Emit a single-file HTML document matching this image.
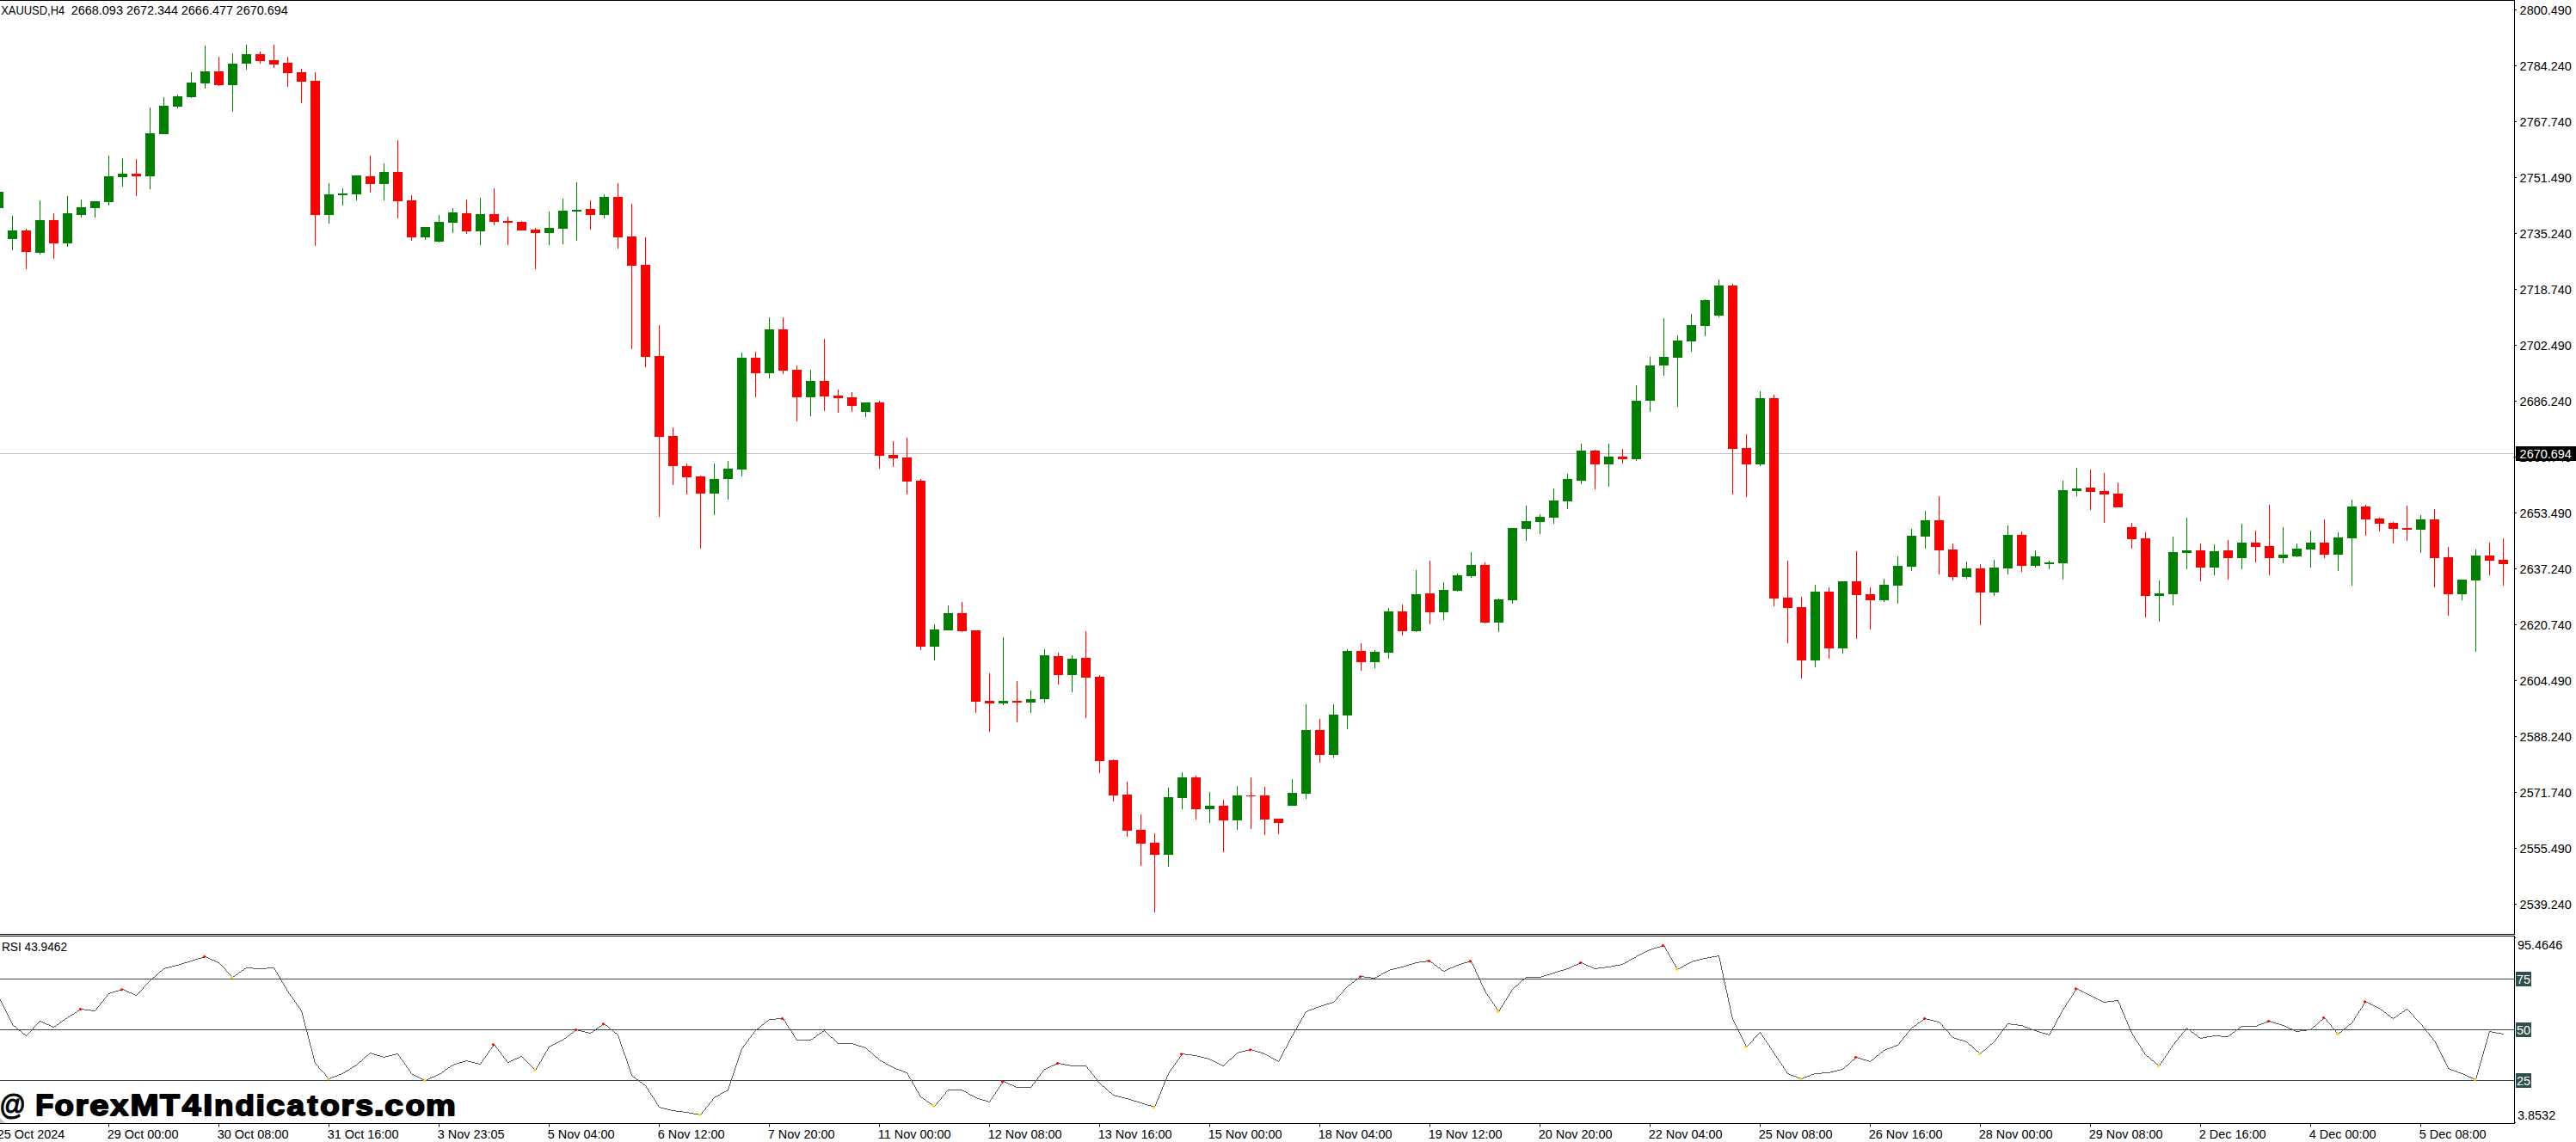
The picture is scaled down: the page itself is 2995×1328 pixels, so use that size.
<!DOCTYPE html><html><head><meta charset="utf-8"><title>XAUUSD,H4</title>
<style>html,body{margin:0;padding:0;background:#fff;overflow:hidden}body{width:2995px;height:1328px}svg{position:absolute;left:0;top:0;display:block}text{font-family:"Liberation Sans",sans-serif;font-size:14px;fill:#000}.w{fill:#fff}.wg{font-weight:bold;font-size:35px}</style></head><body>
<svg width="2995" height="1328" viewBox="0 0 2995 1328">
<rect x="0" y="0" width="2995" height="1328" fill="#fff"/>
<defs><clipPath id="cm"><rect x="0" y="1" width="2923" height="1085"/></clipPath><clipPath id="cr"><rect x="0" y="1089" width="2923" height="217"/></clipPath><clipPath id="cd"><rect x="0" y="1307" width="2995" height="21"/></clipPath></defs>
<g shape-rendering="crispEdges">
<rect x="0" y="527" width="2923" height="1" fill="#c0c0c0"/>
<g clip-path="url(#cm)">
<rect x="-7" y="223" width="11" height="19" fill="#008000"/>
<rect x="14" y="251" width="1" height="40" fill="#008000"/>
<rect x="9" y="268" width="11" height="10" fill="#008000"/>
<rect x="30" y="266" width="1" height="47" fill="#ff0000"/>
<rect x="25" y="268" width="11" height="25" fill="#ff0000"/>
<rect x="46" y="233" width="1" height="63" fill="#008000"/>
<rect x="41" y="256" width="11" height="38" fill="#008000"/>
<rect x="62" y="248" width="1" height="53" fill="#ff0000"/>
<rect x="57" y="256" width="11" height="27" fill="#ff0000"/>
<rect x="78" y="228" width="1" height="59" fill="#008000"/>
<rect x="73" y="248" width="11" height="35" fill="#008000"/>
<rect x="94" y="232" width="1" height="21" fill="#008000"/>
<rect x="89" y="241" width="11" height="9" fill="#008000"/>
<rect x="110" y="234" width="1" height="19" fill="#008000"/>
<rect x="105" y="234" width="11" height="8" fill="#008000"/>
<rect x="126" y="181" width="1" height="58" fill="#008000"/>
<rect x="121" y="205" width="11" height="30" fill="#008000"/>
<rect x="142" y="184" width="1" height="33" fill="#008000"/>
<rect x="137" y="202" width="11" height="4" fill="#008000"/>
<rect x="158" y="185" width="1" height="43" fill="#ff0000"/>
<rect x="153" y="202" width="11" height="3" fill="#ff0000"/>
<rect x="174" y="125" width="1" height="95" fill="#008000"/>
<rect x="169" y="155" width="11" height="50" fill="#008000"/>
<rect x="190" y="113" width="1" height="43" fill="#008000"/>
<rect x="185" y="123" width="11" height="33" fill="#008000"/>
<rect x="206" y="110" width="1" height="16" fill="#008000"/>
<rect x="201" y="112" width="11" height="12" fill="#008000"/>
<rect x="222" y="84" width="1" height="30" fill="#008000"/>
<rect x="217" y="96" width="11" height="17" fill="#008000"/>
<rect x="238" y="53" width="1" height="50" fill="#008000"/>
<rect x="233" y="83" width="11" height="14" fill="#008000"/>
<rect x="254" y="66" width="1" height="34" fill="#ff0000"/>
<rect x="249" y="83" width="11" height="16" fill="#ff0000"/>
<rect x="270" y="62" width="1" height="68" fill="#008000"/>
<rect x="265" y="74" width="11" height="25" fill="#008000"/>
<rect x="286" y="52" width="1" height="29" fill="#008000"/>
<rect x="281" y="63" width="11" height="11" fill="#008000"/>
<rect x="302" y="60" width="1" height="14" fill="#ff0000"/>
<rect x="297" y="63" width="11" height="8" fill="#ff0000"/>
<rect x="318" y="52" width="1" height="27" fill="#ff0000"/>
<rect x="313" y="70" width="11" height="5" fill="#ff0000"/>
<rect x="334" y="66" width="1" height="35" fill="#ff0000"/>
<rect x="329" y="73" width="11" height="12" fill="#ff0000"/>
<rect x="350" y="80" width="1" height="40" fill="#ff0000"/>
<rect x="345" y="84" width="11" height="11" fill="#ff0000"/>
<rect x="366" y="84" width="1" height="202" fill="#ff0000"/>
<rect x="361" y="94" width="11" height="156" fill="#ff0000"/>
<rect x="382" y="213" width="1" height="47" fill="#008000"/>
<rect x="377" y="226" width="11" height="24" fill="#008000"/>
<rect x="398" y="219" width="1" height="20" fill="#008000"/>
<rect x="393" y="225" width="11" height="2" fill="#008000"/>
<rect x="414" y="204" width="1" height="29" fill="#008000"/>
<rect x="409" y="204" width="11" height="22" fill="#008000"/>
<rect x="430" y="181" width="1" height="43" fill="#ff0000"/>
<rect x="425" y="205" width="11" height="9" fill="#ff0000"/>
<rect x="446" y="190" width="1" height="43" fill="#008000"/>
<rect x="441" y="200" width="11" height="14" fill="#008000"/>
<rect x="462" y="163" width="1" height="91" fill="#ff0000"/>
<rect x="457" y="200" width="11" height="34" fill="#ff0000"/>
<rect x="478" y="227" width="1" height="53" fill="#ff0000"/>
<rect x="473" y="233" width="11" height="43" fill="#ff0000"/>
<rect x="494" y="264" width="1" height="15" fill="#008000"/>
<rect x="489" y="264" width="11" height="12" fill="#008000"/>
<rect x="510" y="250" width="1" height="32" fill="#008000"/>
<rect x="505" y="258" width="11" height="23" fill="#008000"/>
<rect x="526" y="242" width="1" height="29" fill="#008000"/>
<rect x="521" y="247" width="11" height="12" fill="#008000"/>
<rect x="542" y="232" width="1" height="40" fill="#ff0000"/>
<rect x="537" y="248" width="11" height="21" fill="#ff0000"/>
<rect x="558" y="230" width="1" height="55" fill="#008000"/>
<rect x="553" y="249" width="11" height="20" fill="#008000"/>
<rect x="574" y="219" width="1" height="43" fill="#ff0000"/>
<rect x="569" y="249" width="11" height="9" fill="#ff0000"/>
<rect x="590" y="252" width="1" height="33" fill="#ff0000"/>
<rect x="585" y="257" width="11" height="2" fill="#ff0000"/>
<rect x="606" y="257" width="1" height="11" fill="#ff0000"/>
<rect x="601" y="258" width="11" height="10" fill="#ff0000"/>
<rect x="622" y="265" width="1" height="48" fill="#ff0000"/>
<rect x="617" y="267" width="11" height="4" fill="#ff0000"/>
<rect x="638" y="246" width="1" height="39" fill="#008000"/>
<rect x="633" y="265" width="11" height="6" fill="#008000"/>
<rect x="654" y="231" width="1" height="53" fill="#008000"/>
<rect x="649" y="245" width="11" height="21" fill="#008000"/>
<rect x="670" y="212" width="1" height="68" fill="#008000"/>
<rect x="665" y="244" width="11" height="2" fill="#008000"/>
<rect x="686" y="233" width="1" height="34" fill="#ff0000"/>
<rect x="681" y="243" width="11" height="7" fill="#ff0000"/>
<rect x="702" y="226" width="1" height="28" fill="#008000"/>
<rect x="697" y="229" width="11" height="21" fill="#008000"/>
<rect x="718" y="213" width="1" height="76" fill="#ff0000"/>
<rect x="713" y="229" width="11" height="47" fill="#ff0000"/>
<rect x="734" y="237" width="1" height="169" fill="#ff0000"/>
<rect x="729" y="275" width="11" height="34" fill="#ff0000"/>
<rect x="750" y="276" width="1" height="151" fill="#ff0000"/>
<rect x="745" y="308" width="11" height="107" fill="#ff0000"/>
<rect x="766" y="378" width="1" height="223" fill="#ff0000"/>
<rect x="761" y="414" width="11" height="94" fill="#ff0000"/>
<rect x="782" y="497" width="1" height="67" fill="#ff0000"/>
<rect x="777" y="507" width="11" height="35" fill="#ff0000"/>
<rect x="798" y="539" width="1" height="36" fill="#ff0000"/>
<rect x="793" y="542" width="11" height="13" fill="#ff0000"/>
<rect x="814" y="553" width="1" height="85" fill="#ff0000"/>
<rect x="809" y="554" width="11" height="20" fill="#ff0000"/>
<rect x="830" y="539" width="1" height="60" fill="#008000"/>
<rect x="825" y="557" width="11" height="17" fill="#008000"/>
<rect x="846" y="536" width="1" height="45" fill="#008000"/>
<rect x="841" y="545" width="11" height="12" fill="#008000"/>
<rect x="862" y="410" width="1" height="144" fill="#008000"/>
<rect x="857" y="416" width="11" height="130" fill="#008000"/>
<rect x="878" y="409" width="1" height="53" fill="#ff0000"/>
<rect x="873" y="416" width="11" height="18" fill="#ff0000"/>
<rect x="894" y="369" width="1" height="71" fill="#008000"/>
<rect x="889" y="383" width="11" height="51" fill="#008000"/>
<rect x="910" y="369" width="1" height="66" fill="#ff0000"/>
<rect x="905" y="383" width="11" height="48" fill="#ff0000"/>
<rect x="926" y="425" width="1" height="65" fill="#ff0000"/>
<rect x="921" y="430" width="11" height="32" fill="#ff0000"/>
<rect x="942" y="430" width="1" height="54" fill="#008000"/>
<rect x="937" y="443" width="11" height="19" fill="#008000"/>
<rect x="958" y="394" width="1" height="84" fill="#ff0000"/>
<rect x="953" y="443" width="11" height="18" fill="#ff0000"/>
<rect x="974" y="453" width="1" height="27" fill="#ff0000"/>
<rect x="969" y="460" width="11" height="3" fill="#ff0000"/>
<rect x="990" y="456" width="1" height="23" fill="#ff0000"/>
<rect x="985" y="462" width="11" height="10" fill="#ff0000"/>
<rect x="1006" y="468" width="1" height="17" fill="#008000"/>
<rect x="1001" y="468" width="11" height="11" fill="#008000"/>
<rect x="1022" y="466" width="1" height="79" fill="#ff0000"/>
<rect x="1017" y="468" width="11" height="62" fill="#ff0000"/>
<rect x="1038" y="513" width="1" height="30" fill="#ff0000"/>
<rect x="1033" y="529" width="11" height="4" fill="#ff0000"/>
<rect x="1054" y="509" width="1" height="66" fill="#ff0000"/>
<rect x="1049" y="532" width="11" height="28" fill="#ff0000"/>
<rect x="1070" y="557" width="1" height="199" fill="#ff0000"/>
<rect x="1065" y="559" width="11" height="193" fill="#ff0000"/>
<rect x="1086" y="726" width="1" height="42" fill="#008000"/>
<rect x="1081" y="732" width="11" height="20" fill="#008000"/>
<rect x="1102" y="704" width="1" height="29" fill="#008000"/>
<rect x="1097" y="713" width="11" height="20" fill="#008000"/>
<rect x="1118" y="700" width="1" height="35" fill="#ff0000"/>
<rect x="1113" y="713" width="11" height="21" fill="#ff0000"/>
<rect x="1134" y="733" width="1" height="96" fill="#ff0000"/>
<rect x="1129" y="733" width="11" height="83" fill="#ff0000"/>
<rect x="1150" y="783" width="1" height="68" fill="#ff0000"/>
<rect x="1145" y="815" width="11" height="3" fill="#ff0000"/>
<rect x="1166" y="741" width="1" height="79" fill="#008000"/>
<rect x="1161" y="815" width="11" height="3" fill="#008000"/>
<rect x="1182" y="792" width="1" height="48" fill="#ff0000"/>
<rect x="1177" y="815" width="11" height="2" fill="#ff0000"/>
<rect x="1198" y="803" width="1" height="26" fill="#008000"/>
<rect x="1193" y="813" width="11" height="4" fill="#008000"/>
<rect x="1214" y="755" width="1" height="62" fill="#008000"/>
<rect x="1209" y="762" width="11" height="51" fill="#008000"/>
<rect x="1230" y="759" width="1" height="37" fill="#ff0000"/>
<rect x="1225" y="763" width="11" height="22" fill="#ff0000"/>
<rect x="1246" y="762" width="1" height="43" fill="#008000"/>
<rect x="1241" y="766" width="11" height="19" fill="#008000"/>
<rect x="1262" y="734" width="1" height="101" fill="#ff0000"/>
<rect x="1257" y="765" width="11" height="23" fill="#ff0000"/>
<rect x="1278" y="785" width="1" height="114" fill="#ff0000"/>
<rect x="1273" y="787" width="11" height="98" fill="#ff0000"/>
<rect x="1294" y="883" width="1" height="49" fill="#ff0000"/>
<rect x="1289" y="884" width="11" height="41" fill="#ff0000"/>
<rect x="1310" y="909" width="1" height="64" fill="#ff0000"/>
<rect x="1305" y="924" width="11" height="42" fill="#ff0000"/>
<rect x="1326" y="947" width="1" height="60" fill="#ff0000"/>
<rect x="1321" y="965" width="11" height="16" fill="#ff0000"/>
<rect x="1342" y="969" width="1" height="92" fill="#ff0000"/>
<rect x="1337" y="980" width="11" height="14" fill="#ff0000"/>
<rect x="1358" y="916" width="1" height="92" fill="#008000"/>
<rect x="1353" y="927" width="11" height="67" fill="#008000"/>
<rect x="1374" y="898" width="1" height="43" fill="#008000"/>
<rect x="1369" y="904" width="11" height="24" fill="#008000"/>
<rect x="1390" y="902" width="1" height="51" fill="#ff0000"/>
<rect x="1385" y="904" width="11" height="37" fill="#ff0000"/>
<rect x="1406" y="921" width="1" height="36" fill="#008000"/>
<rect x="1401" y="937" width="11" height="4" fill="#008000"/>
<rect x="1422" y="930" width="1" height="61" fill="#ff0000"/>
<rect x="1417" y="937" width="11" height="17" fill="#ff0000"/>
<rect x="1438" y="914" width="1" height="51" fill="#008000"/>
<rect x="1433" y="925" width="11" height="29" fill="#008000"/>
<rect x="1454" y="904" width="1" height="60" fill="#ff0000"/>
<rect x="1449" y="925" width="11" height="1" fill="#ff0000"/>
<rect x="1470" y="915" width="1" height="56" fill="#ff0000"/>
<rect x="1465" y="925" width="11" height="28" fill="#ff0000"/>
<rect x="1486" y="952" width="1" height="18" fill="#ff0000"/>
<rect x="1481" y="952" width="11" height="5" fill="#ff0000"/>
<rect x="1502" y="906" width="1" height="31" fill="#008000"/>
<rect x="1497" y="922" width="11" height="15" fill="#008000"/>
<rect x="1518" y="819" width="1" height="110" fill="#008000"/>
<rect x="1513" y="849" width="11" height="74" fill="#008000"/>
<rect x="1534" y="836" width="1" height="51" fill="#ff0000"/>
<rect x="1529" y="849" width="11" height="29" fill="#ff0000"/>
<rect x="1550" y="819" width="1" height="62" fill="#008000"/>
<rect x="1545" y="831" width="11" height="47" fill="#008000"/>
<rect x="1566" y="755" width="1" height="93" fill="#008000"/>
<rect x="1561" y="757" width="11" height="75" fill="#008000"/>
<rect x="1582" y="748" width="1" height="32" fill="#ff0000"/>
<rect x="1577" y="757" width="11" height="13" fill="#ff0000"/>
<rect x="1598" y="756" width="1" height="21" fill="#008000"/>
<rect x="1593" y="758" width="11" height="12" fill="#008000"/>
<rect x="1614" y="707" width="1" height="59" fill="#008000"/>
<rect x="1609" y="711" width="11" height="48" fill="#008000"/>
<rect x="1630" y="703" width="1" height="36" fill="#ff0000"/>
<rect x="1625" y="711" width="11" height="23" fill="#ff0000"/>
<rect x="1646" y="663" width="1" height="72" fill="#008000"/>
<rect x="1641" y="691" width="11" height="43" fill="#008000"/>
<rect x="1662" y="652" width="1" height="74" fill="#ff0000"/>
<rect x="1657" y="690" width="11" height="22" fill="#ff0000"/>
<rect x="1678" y="677" width="1" height="44" fill="#008000"/>
<rect x="1673" y="686" width="11" height="26" fill="#008000"/>
<rect x="1694" y="667" width="1" height="21" fill="#008000"/>
<rect x="1689" y="669" width="11" height="18" fill="#008000"/>
<rect x="1710" y="642" width="1" height="30" fill="#008000"/>
<rect x="1705" y="657" width="11" height="13" fill="#008000"/>
<rect x="1726" y="654" width="1" height="71" fill="#ff0000"/>
<rect x="1721" y="657" width="11" height="67" fill="#ff0000"/>
<rect x="1742" y="696" width="1" height="39" fill="#008000"/>
<rect x="1737" y="697" width="11" height="27" fill="#008000"/>
<rect x="1758" y="614" width="1" height="88" fill="#008000"/>
<rect x="1753" y="614" width="11" height="84" fill="#008000"/>
<rect x="1774" y="588" width="1" height="41" fill="#008000"/>
<rect x="1769" y="606" width="11" height="9" fill="#008000"/>
<rect x="1790" y="598" width="1" height="23" fill="#008000"/>
<rect x="1785" y="601" width="11" height="6" fill="#008000"/>
<rect x="1806" y="568" width="1" height="41" fill="#008000"/>
<rect x="1801" y="582" width="11" height="20" fill="#008000"/>
<rect x="1822" y="551" width="1" height="41" fill="#008000"/>
<rect x="1817" y="557" width="11" height="26" fill="#008000"/>
<rect x="1838" y="516" width="1" height="47" fill="#008000"/>
<rect x="1833" y="524" width="11" height="35" fill="#008000"/>
<rect x="1854" y="523" width="1" height="46" fill="#ff0000"/>
<rect x="1849" y="524" width="11" height="16" fill="#ff0000"/>
<rect x="1870" y="516" width="1" height="50" fill="#008000"/>
<rect x="1865" y="531" width="11" height="9" fill="#008000"/>
<rect x="1886" y="522" width="1" height="17" fill="#ff0000"/>
<rect x="1881" y="531" width="11" height="3" fill="#ff0000"/>
<rect x="1902" y="448" width="1" height="88" fill="#008000"/>
<rect x="1897" y="466" width="11" height="68" fill="#008000"/>
<rect x="1918" y="415" width="1" height="64" fill="#008000"/>
<rect x="1913" y="425" width="11" height="41" fill="#008000"/>
<rect x="1934" y="370" width="1" height="67" fill="#008000"/>
<rect x="1929" y="415" width="11" height="10" fill="#008000"/>
<rect x="1950" y="390" width="1" height="83" fill="#008000"/>
<rect x="1945" y="396" width="11" height="20" fill="#008000"/>
<rect x="1966" y="365" width="1" height="44" fill="#008000"/>
<rect x="1961" y="378" width="11" height="19" fill="#008000"/>
<rect x="1982" y="348" width="1" height="43" fill="#008000"/>
<rect x="1977" y="349" width="11" height="30" fill="#008000"/>
<rect x="1998" y="325" width="1" height="44" fill="#008000"/>
<rect x="1993" y="332" width="11" height="35" fill="#008000"/>
<rect x="2014" y="330" width="1" height="245" fill="#ff0000"/>
<rect x="2009" y="332" width="11" height="190" fill="#ff0000"/>
<rect x="2030" y="505" width="1" height="73" fill="#ff0000"/>
<rect x="2025" y="521" width="11" height="19" fill="#ff0000"/>
<rect x="2046" y="455" width="1" height="87" fill="#008000"/>
<rect x="2041" y="463" width="11" height="77" fill="#008000"/>
<rect x="2062" y="459" width="1" height="246" fill="#ff0000"/>
<rect x="2057" y="463" width="11" height="233" fill="#ff0000"/>
<rect x="2078" y="652" width="1" height="96" fill="#ff0000"/>
<rect x="2073" y="695" width="11" height="12" fill="#ff0000"/>
<rect x="2094" y="694" width="1" height="95" fill="#ff0000"/>
<rect x="2089" y="706" width="11" height="62" fill="#ff0000"/>
<rect x="2110" y="680" width="1" height="96" fill="#008000"/>
<rect x="2105" y="688" width="11" height="80" fill="#008000"/>
<rect x="2126" y="683" width="1" height="83" fill="#ff0000"/>
<rect x="2121" y="688" width="11" height="66" fill="#ff0000"/>
<rect x="2142" y="676" width="1" height="84" fill="#008000"/>
<rect x="2137" y="676" width="11" height="78" fill="#008000"/>
<rect x="2158" y="641" width="1" height="102" fill="#ff0000"/>
<rect x="2153" y="676" width="11" height="16" fill="#ff0000"/>
<rect x="2174" y="683" width="1" height="49" fill="#ff0000"/>
<rect x="2169" y="691" width="11" height="7" fill="#ff0000"/>
<rect x="2190" y="673" width="1" height="27" fill="#008000"/>
<rect x="2185" y="680" width="11" height="18" fill="#008000"/>
<rect x="2206" y="647" width="1" height="55" fill="#008000"/>
<rect x="2201" y="658" width="11" height="23" fill="#008000"/>
<rect x="2222" y="615" width="1" height="49" fill="#008000"/>
<rect x="2217" y="623" width="11" height="36" fill="#008000"/>
<rect x="2238" y="594" width="1" height="44" fill="#008000"/>
<rect x="2233" y="605" width="11" height="19" fill="#008000"/>
<rect x="2254" y="577" width="1" height="91" fill="#ff0000"/>
<rect x="2249" y="605" width="11" height="35" fill="#ff0000"/>
<rect x="2270" y="632" width="1" height="43" fill="#ff0000"/>
<rect x="2265" y="639" width="11" height="32" fill="#ff0000"/>
<rect x="2286" y="653" width="1" height="20" fill="#008000"/>
<rect x="2281" y="661" width="11" height="10" fill="#008000"/>
<rect x="2302" y="656" width="1" height="71" fill="#ff0000"/>
<rect x="2297" y="661" width="11" height="28" fill="#ff0000"/>
<rect x="2318" y="651" width="1" height="42" fill="#008000"/>
<rect x="2313" y="660" width="11" height="29" fill="#008000"/>
<rect x="2334" y="611" width="1" height="57" fill="#008000"/>
<rect x="2329" y="622" width="11" height="39" fill="#008000"/>
<rect x="2350" y="618" width="1" height="47" fill="#ff0000"/>
<rect x="2345" y="622" width="11" height="36" fill="#ff0000"/>
<rect x="2366" y="640" width="1" height="20" fill="#008000"/>
<rect x="2361" y="647" width="11" height="11" fill="#008000"/>
<rect x="2382" y="652" width="1" height="10" fill="#008000"/>
<rect x="2377" y="654" width="11" height="2" fill="#008000"/>
<rect x="2398" y="559" width="1" height="115" fill="#008000"/>
<rect x="2393" y="570" width="11" height="85" fill="#008000"/>
<rect x="2414" y="544" width="1" height="33" fill="#008000"/>
<rect x="2409" y="568" width="11" height="3" fill="#008000"/>
<rect x="2430" y="546" width="1" height="47" fill="#ff0000"/>
<rect x="2425" y="567" width="11" height="5" fill="#ff0000"/>
<rect x="2446" y="550" width="1" height="58" fill="#ff0000"/>
<rect x="2441" y="571" width="11" height="4" fill="#ff0000"/>
<rect x="2462" y="561" width="1" height="29" fill="#ff0000"/>
<rect x="2457" y="574" width="11" height="16" fill="#ff0000"/>
<rect x="2478" y="608" width="1" height="30" fill="#ff0000"/>
<rect x="2473" y="613" width="11" height="14" fill="#ff0000"/>
<rect x="2494" y="619" width="1" height="99" fill="#ff0000"/>
<rect x="2489" y="626" width="11" height="67" fill="#ff0000"/>
<rect x="2510" y="675" width="1" height="48" fill="#008000"/>
<rect x="2505" y="690" width="11" height="3" fill="#008000"/>
<rect x="2526" y="624" width="1" height="80" fill="#008000"/>
<rect x="2521" y="642" width="11" height="49" fill="#008000"/>
<rect x="2542" y="602" width="1" height="60" fill="#008000"/>
<rect x="2537" y="640" width="11" height="3" fill="#008000"/>
<rect x="2558" y="632" width="1" height="44" fill="#ff0000"/>
<rect x="2553" y="640" width="11" height="20" fill="#ff0000"/>
<rect x="2574" y="633" width="1" height="36" fill="#008000"/>
<rect x="2569" y="641" width="11" height="19" fill="#008000"/>
<rect x="2590" y="628" width="1" height="46" fill="#ff0000"/>
<rect x="2585" y="640" width="11" height="9" fill="#ff0000"/>
<rect x="2606" y="609" width="1" height="53" fill="#008000"/>
<rect x="2601" y="631" width="11" height="18" fill="#008000"/>
<rect x="2622" y="617" width="1" height="37" fill="#ff0000"/>
<rect x="2617" y="631" width="11" height="5" fill="#ff0000"/>
<rect x="2638" y="587" width="1" height="82" fill="#ff0000"/>
<rect x="2633" y="635" width="11" height="14" fill="#ff0000"/>
<rect x="2654" y="613" width="1" height="42" fill="#008000"/>
<rect x="2649" y="645" width="11" height="4" fill="#008000"/>
<rect x="2670" y="632" width="1" height="16" fill="#008000"/>
<rect x="2665" y="638" width="11" height="9" fill="#008000"/>
<rect x="2686" y="617" width="1" height="43" fill="#008000"/>
<rect x="2681" y="631" width="11" height="8" fill="#008000"/>
<rect x="2702" y="604" width="1" height="45" fill="#ff0000"/>
<rect x="2697" y="631" width="11" height="14" fill="#ff0000"/>
<rect x="2718" y="619" width="1" height="45" fill="#008000"/>
<rect x="2713" y="625" width="11" height="20" fill="#008000"/>
<rect x="2734" y="581" width="1" height="100" fill="#008000"/>
<rect x="2729" y="589" width="11" height="37" fill="#008000"/>
<rect x="2750" y="587" width="1" height="36" fill="#ff0000"/>
<rect x="2745" y="589" width="11" height="15" fill="#ff0000"/>
<rect x="2766" y="602" width="1" height="16" fill="#ff0000"/>
<rect x="2761" y="603" width="11" height="6" fill="#ff0000"/>
<rect x="2782" y="607" width="1" height="25" fill="#ff0000"/>
<rect x="2777" y="608" width="11" height="7" fill="#ff0000"/>
<rect x="2798" y="588" width="1" height="41" fill="#ff0000"/>
<rect x="2793" y="614" width="11" height="2" fill="#ff0000"/>
<rect x="2814" y="599" width="1" height="44" fill="#008000"/>
<rect x="2809" y="604" width="11" height="12" fill="#008000"/>
<rect x="2830" y="592" width="1" height="91" fill="#ff0000"/>
<rect x="2825" y="604" width="11" height="45" fill="#ff0000"/>
<rect x="2846" y="636" width="1" height="80" fill="#ff0000"/>
<rect x="2841" y="648" width="11" height="43" fill="#ff0000"/>
<rect x="2862" y="674" width="1" height="24" fill="#008000"/>
<rect x="2857" y="674" width="11" height="17" fill="#008000"/>
<rect x="2878" y="639" width="1" height="119" fill="#008000"/>
<rect x="2873" y="646" width="11" height="29" fill="#008000"/>
<rect x="2894" y="631" width="1" height="38" fill="#ff0000"/>
<rect x="2889" y="646" width="11" height="6" fill="#ff0000"/>
<rect x="2910" y="626" width="1" height="55" fill="#ff0000"/>
<rect x="2905" y="651" width="11" height="5" fill="#ff0000"/>
</g>
<rect x="0" y="0" width="2924" height="1" fill="#000"/>
<rect x="2923" y="0" width="1" height="1087" fill="#000"/>
<rect x="0" y="1086" width="2924" height="1" fill="#000"/>
<rect x="0" y="1088" width="2924" height="1" fill="#000"/>
<rect x="2923" y="1088" width="1" height="219" fill="#000"/>
<rect x="0" y="1306" width="2924" height="1" fill="#000"/>
<rect x="2924" y="11" width="2" height="1" fill="#000"/>
<rect x="2924" y="76" width="2" height="1" fill="#000"/>
<rect x="2924" y="141" width="2" height="1" fill="#000"/>
<rect x="2924" y="206" width="2" height="1" fill="#000"/>
<rect x="2924" y="271" width="2" height="1" fill="#000"/>
<rect x="2924" y="336" width="2" height="1" fill="#000"/>
<rect x="2924" y="401" width="2" height="1" fill="#000"/>
<rect x="2924" y="466" width="2" height="1" fill="#000"/>
<rect x="2924" y="531" width="2" height="1" fill="#000"/>
<rect x="2924" y="596" width="2" height="1" fill="#000"/>
<rect x="2924" y="661" width="2" height="1" fill="#000"/>
<rect x="2924" y="726" width="2" height="1" fill="#000"/>
<rect x="2924" y="791" width="2" height="1" fill="#000"/>
<rect x="2924" y="856" width="2" height="1" fill="#000"/>
<rect x="2924" y="921" width="2" height="1" fill="#000"/>
<rect x="2924" y="986" width="2" height="1" fill="#000"/>
<rect x="2924" y="1051" width="2" height="1" fill="#000"/>
<rect x="2924" y="1090" width="1" height="1" fill="#000"/>
<rect x="2924" y="1305" width="1" height="1" fill="#000"/>
<rect x="0" y="1138" width="2923" height="1" fill="#2f4f4f"/>
<rect x="2925" y="1130" width="18" height="17" fill="#2f4f4f"/>
<rect x="0" y="1197" width="2923" height="1" fill="#2f4f4f"/>
<rect x="2925" y="1189" width="18" height="17" fill="#2f4f4f"/>
<rect x="0" y="1256" width="2923" height="1" fill="#2f4f4f"/>
<rect x="2925" y="1248" width="18" height="17" fill="#2f4f4f"/>
<rect x="126" y="1307" width="1" height="3" fill="#000"/>
<rect x="254" y="1307" width="1" height="3" fill="#000"/>
<rect x="382" y="1307" width="1" height="3" fill="#000"/>
<rect x="510" y="1307" width="1" height="3" fill="#000"/>
<rect x="638" y="1307" width="1" height="3" fill="#000"/>
<rect x="766" y="1307" width="1" height="3" fill="#000"/>
<rect x="894" y="1307" width="1" height="3" fill="#000"/>
<rect x="1022" y="1307" width="1" height="3" fill="#000"/>
<rect x="1150" y="1307" width="1" height="3" fill="#000"/>
<rect x="1278" y="1307" width="1" height="3" fill="#000"/>
<rect x="1406" y="1307" width="1" height="3" fill="#000"/>
<rect x="1534" y="1307" width="1" height="3" fill="#000"/>
<rect x="1662" y="1307" width="1" height="3" fill="#000"/>
<rect x="1790" y="1307" width="1" height="3" fill="#000"/>
<rect x="1918" y="1307" width="1" height="3" fill="#000"/>
<rect x="2046" y="1307" width="1" height="3" fill="#000"/>
<rect x="2174" y="1307" width="1" height="3" fill="#000"/>
<rect x="2302" y="1307" width="1" height="3" fill="#000"/>
<rect x="2430" y="1307" width="1" height="3" fill="#000"/>
<rect x="2558" y="1307" width="1" height="3" fill="#000"/>
<rect x="2686" y="1307" width="1" height="3" fill="#000"/>
<rect x="2814" y="1307" width="1" height="3" fill="#000"/>
</g>
<g clip-path="url(#cr)"><path shape-rendering="crispEdges" fill="#585858" d="M0 1162h1v2h-1zM1 1164h1v2h-1zM2 1166h1v2h-1zM3 1168h1v2h-1zM4 1170h1v2h-1zM5 1172h1v2h-1zM6 1174h1v2h-1zM7 1176h1v2h-1zM8 1178h1v2h-1zM9 1180h1v2h-1zM10 1182h1v2h-1zM11 1184h1v2h-1zM12 1186h1v2h-1zM13 1188h1v2h-1zM14 1190h1v2h-1zM15 1192h1v1h-1zM16 1193h2v1h-2zM18 1194h1v1h-1zM19 1195h1v1h-1zM20 1196h1v1h-1zM21 1197h1v1h-1zM22 1198h2v1h-2zM24 1199h1v1h-1zM25 1200h1v1h-1zM26 1201h1v1h-1zM27 1202h2v1h-2zM29 1203h1v1h-1zM30 1204h1v1h-1zM31 1203h1v1h-1zM32 1202h1v1h-1zM33 1201h1v1h-1zM34 1200h1v1h-1zM35 1199h1v1h-1zM36 1198h1v1h-1zM37 1197h1v1h-1zM38 1195h1v2h-1zM39 1194h1v1h-1zM40 1193h1v1h-1zM41 1192h1v1h-1zM42 1191h1v1h-1zM43 1190h1v1h-1zM44 1189h1v1h-1zM45 1188h1v1h-1zM46 1187h2v1h-2zM48 1188h2v1h-2zM50 1189h2v1h-2zM52 1190h2v1h-2zM54 1191h3v1h-3zM57 1192h2v1h-2zM59 1193h2v1h-2zM61 1194h2v1h-2zM63 1193h2v1h-2zM65 1192h1v1h-1zM66 1191h2v1h-2zM68 1190h1v1h-1zM69 1189h1v1h-1zM70 1188h2v1h-2zM72 1187h1v1h-1zM73 1186h2v1h-2zM75 1185h1v1h-1zM76 1184h2v1h-2zM78 1183h1v1h-1zM79 1182h2v1h-2zM81 1181h1v1h-1zM82 1180h2v1h-2zM84 1179h2v1h-2zM86 1178h1v1h-1zM87 1177h2v1h-2zM89 1176h1v1h-1zM90 1175h2v1h-2zM92 1174h2v1h-2zM94 1173h4v1h-4zM98 1174h8v1h-8zM106 1175h5v1h-5zM111 1174h1v1h-1zM112 1172h1v2h-1zM113 1171h1v1h-1zM114 1170h1v1h-1zM115 1169h1v1h-1zM116 1167h1v2h-1zM117 1166h1v1h-1zM118 1165h1v1h-1zM119 1164h1v1h-1zM120 1162h1v2h-1zM121 1161h1v1h-1zM122 1160h1v1h-1zM123 1159h1v1h-1zM124 1157h1v2h-1zM125 1156h1v1h-1zM126 1155h2v1h-2zM128 1154h3v1h-3zM131 1153h3v1h-3zM134 1152h4v1h-4zM138 1151h3v1h-3zM141 1150h3v1h-3zM144 1151h2v1h-2zM146 1152h2v1h-2zM148 1153h2v1h-2zM150 1154h3v1h-3zM153 1155h2v1h-2zM155 1156h2v1h-2zM157 1157h2v1h-2zM159 1156h1v1h-1zM160 1155h1v1h-1zM161 1154h1v1h-1zM162 1153h1v1h-1zM163 1152h1v1h-1zM164 1151h1v1h-1zM165 1150h1v1h-1zM166 1148h1v2h-1zM167 1147h1v1h-1zM168 1146h1v1h-1zM169 1145h1v1h-1zM170 1144h1v1h-1zM171 1143h1v1h-1zM172 1142h1v1h-1zM173 1141h1v1h-1zM174 1140h1v1h-1zM175 1139h1v1h-1zM176 1138h1v1h-1zM177 1137h1v1h-1zM178 1136h2v1h-2zM180 1135h1v1h-1zM181 1134h1v1h-1zM182 1133h1v1h-1zM183 1132h1v1h-1zM184 1131h1v1h-1zM185 1130h1v1h-1zM186 1129h2v1h-2zM188 1128h1v1h-1zM189 1127h1v1h-1zM190 1126h2v1h-2zM192 1125h4v1h-4zM196 1124h4v1h-4zM200 1123h4v1h-4zM204 1122h4v1h-4zM208 1121h3v1h-3zM211 1120h3v1h-3zM214 1119h4v1h-4zM218 1118h3v1h-3zM221 1117h3v1h-3zM224 1116h3v1h-3zM227 1115h3v1h-3zM230 1114h4v1h-4zM234 1113h3v1h-3zM237 1112h3v1h-3zM240 1113h2v1h-2zM242 1114h2v1h-2zM244 1115h2v1h-2zM246 1116h3v1h-3zM249 1117h2v1h-2zM251 1118h2v1h-2zM253 1119h2v1h-2zM255 1120h1v1h-1zM256 1121h1v1h-1zM257 1122h1v1h-1zM258 1123h1v1h-1zM259 1124h1v1h-1zM260 1125h1v1h-1zM261 1126h1v1h-1zM262 1127h1v2h-1zM263 1129h1v1h-1zM264 1130h1v1h-1zM265 1131h1v1h-1zM266 1132h1v1h-1zM267 1133h1v1h-1zM268 1134h1v1h-1zM269 1135h1v1h-1zM270 1136h1v1h-1zM271 1135h2v1h-2zM273 1134h1v1h-1zM274 1133h2v1h-2zM276 1132h1v1h-1zM277 1131h1v1h-1zM278 1130h2v1h-2zM280 1129h1v1h-1zM281 1128h2v1h-2zM283 1127h1v1h-1zM284 1126h2v1h-2zM286 1125h8v1h-8zM294 1126h16v1h-16zM310 1125h9v1h-9zM319 1126h1v2h-1zM320 1128h1v2h-1zM321 1130h1v1h-1zM322 1131h1v2h-1zM323 1133h1v2h-1zM324 1135h1v1h-1zM325 1136h1v2h-1zM326 1138h1v2h-1zM327 1140h1v2h-1zM328 1142h1v1h-1zM329 1143h1v2h-1zM330 1145h1v2h-1zM331 1147h1v1h-1zM332 1148h1v2h-1zM333 1150h1v2h-1zM334 1152h1v1h-1zM335 1153h1v2h-1zM336 1155h1v1h-1zM337 1156h1v2h-1zM338 1158h1v1h-1zM339 1159h1v1h-1zM340 1160h1v2h-1zM341 1162h1v1h-1zM342 1163h1v2h-1zM343 1165h1v1h-1zM344 1166h1v2h-1zM345 1168h1v1h-1zM346 1169h1v1h-1zM347 1170h1v2h-1zM348 1172h1v1h-1zM349 1173h1v2h-1zM350 1175h1v2h-1zM351 1177h1v4h-1zM352 1181h1v4h-1zM353 1185h1v4h-1zM354 1189h1v4h-1zM355 1193h1v3h-1zM356 1196h1v4h-1zM357 1200h1v4h-1zM358 1204h1v4h-1zM359 1208h1v4h-1zM360 1212h1v4h-1zM361 1216h1v3h-1zM362 1219h1v4h-1zM363 1223h1v4h-1zM364 1227h1v4h-1zM365 1231h1v4h-1zM366 1235h1v2h-1zM367 1237h1v1h-1zM368 1238h1v1h-1zM369 1239h1v1h-1zM370 1240h1v2h-1zM371 1242h1v1h-1zM372 1243h1v1h-1zM373 1244h1v1h-1zM374 1245h1v1h-1zM375 1246h1v1h-1zM376 1247h1v1h-1zM377 1248h1v1h-1zM378 1249h1v2h-1zM379 1251h1v1h-1zM380 1252h1v1h-1zM381 1253h1v1h-1zM382 1254h2v1h-2zM384 1253h2v1h-2zM386 1252h3v1h-3zM389 1251h3v1h-3zM392 1250h2v1h-2zM394 1249h3v1h-3zM397 1248h2v1h-2zM399 1247h2v1h-2zM401 1246h1v1h-1zM402 1245h2v1h-2zM404 1244h2v1h-2zM406 1243h1v1h-1zM407 1242h2v1h-2zM409 1241h1v1h-1zM410 1240h2v1h-2zM412 1239h2v1h-2zM414 1238h1v1h-1zM415 1237h1v1h-1zM416 1236h1v1h-1zM417 1235h1v1h-1zM418 1234h2v1h-2zM420 1233h1v1h-1zM421 1232h1v1h-1zM422 1231h1v1h-1zM423 1230h1v1h-1zM424 1229h1v1h-1zM425 1228h1v1h-1zM426 1227h2v1h-2zM428 1226h1v1h-1zM429 1225h1v1h-1zM430 1224h2v1h-2zM432 1225h3v1h-3zM435 1226h3v1h-3zM438 1227h4v1h-4zM442 1228h3v1h-3zM445 1229h3v1h-3zM448 1228h4v1h-4zM452 1227h4v1h-4zM456 1226h4v1h-4zM460 1225h3v1h-3zM463 1226h1v2h-1zM464 1228h1v1h-1zM465 1229h1v2h-1zM466 1231h1v1h-1zM467 1232h1v1h-1zM468 1233h1v2h-1zM469 1235h1v1h-1zM470 1236h1v2h-1zM471 1238h1v1h-1zM472 1239h1v2h-1zM473 1241h1v1h-1zM474 1242h1v1h-1zM475 1243h1v2h-1zM476 1245h1v1h-1zM477 1246h1v2h-1zM478 1248h1v1h-1zM479 1249h2v1h-2zM481 1250h2v1h-2zM483 1251h2v1h-2zM485 1252h2v1h-2zM487 1253h2v1h-2zM489 1254h2v1h-2zM491 1255h2v1h-2zM493 1256h3v1h-3zM496 1255h2v1h-2zM498 1254h2v1h-2zM500 1253h2v1h-2zM502 1252h3v1h-3zM505 1251h2v1h-2zM507 1250h2v1h-2zM509 1249h2v1h-2zM511 1248h2v1h-2zM513 1247h1v1h-1zM514 1246h2v1h-2zM516 1245h1v1h-1zM517 1244h1v1h-1zM518 1243h2v1h-2zM520 1242h1v1h-1zM521 1241h2v1h-2zM523 1240h1v1h-1zM524 1239h2v1h-2zM526 1238h2v1h-2zM528 1237h3v1h-3zM531 1236h3v1h-3zM534 1235h4v1h-4zM538 1234h3v1h-3zM541 1233h3v1h-3zM544 1234h4v1h-4zM548 1235h4v1h-4zM552 1236h4v1h-4zM556 1237h3v1h-3zM559 1235h1v2h-1zM560 1234h1v1h-1zM561 1232h1v2h-1zM562 1231h1v1h-1zM563 1230h1v1h-1zM564 1228h1v2h-1zM565 1227h1v1h-1zM566 1225h1v2h-1zM567 1224h1v1h-1zM568 1222h1v2h-1zM569 1221h1v1h-1zM570 1220h1v1h-1zM571 1218h1v2h-1zM572 1217h1v1h-1zM573 1215h1v2h-1zM574 1214h1v1h-1zM575 1215h1v1h-1zM576 1216h1v2h-1zM577 1218h1v1h-1zM578 1219h1v1h-1zM579 1220h1v2h-1zM580 1222h1v1h-1zM581 1223h1v1h-1zM582 1224h1v2h-1zM583 1226h1v1h-1zM584 1227h1v1h-1zM585 1228h1v2h-1zM586 1230h1v1h-1zM587 1231h1v1h-1zM588 1232h1v2h-1zM589 1234h1v1h-1zM590 1235h2v1h-2zM592 1234h2v1h-2zM594 1233h2v1h-2zM596 1232h2v1h-2zM598 1231h3v1h-3zM601 1230h2v1h-2zM603 1229h2v1h-2zM605 1228h2v1h-2zM607 1229h1v1h-1zM608 1230h1v1h-1zM609 1231h1v1h-1zM610 1232h1v1h-1zM611 1233h1v1h-1zM612 1234h1v1h-1zM613 1235h1v1h-1zM614 1236h1v1h-1zM615 1237h1v1h-1zM616 1238h1v1h-1zM617 1239h1v1h-1zM618 1240h1v1h-1zM619 1241h1v1h-1zM620 1242h1v1h-1zM621 1243h1v1h-1zM622 1244h1v1h-1zM623 1242h1v2h-1zM624 1240h1v2h-1zM625 1239h1v1h-1zM626 1237h1v2h-1zM627 1235h1v2h-1zM628 1234h1v1h-1zM629 1232h1v2h-1zM630 1230h1v2h-1zM631 1228h1v2h-1zM632 1227h1v1h-1zM633 1225h1v2h-1zM634 1223h1v2h-1zM635 1222h1v1h-1zM636 1220h1v2h-1zM637 1218h1v2h-1zM638 1217h1v1h-1zM639 1216h2v1h-2zM641 1215h2v1h-2zM643 1214h2v1h-2zM645 1213h2v1h-2zM647 1212h2v1h-2zM649 1211h2v1h-2zM651 1210h2v1h-2zM653 1209h2v1h-2zM655 1208h1v1h-1zM656 1207h2v1h-2zM658 1206h1v1h-1zM659 1205h1v1h-1zM660 1204h2v1h-2zM662 1203h1v1h-1zM663 1202h1v1h-1zM664 1201h2v1h-2zM666 1200h1v1h-1zM667 1199h1v1h-1zM668 1198h2v1h-2zM670 1197h2v1h-2zM672 1198h4v1h-4zM676 1199h4v1h-4zM680 1200h4v1h-4zM684 1201h3v1h-3zM687 1200h2v1h-2zM689 1199h1v1h-1zM690 1198h2v1h-2zM692 1197h1v1h-1zM693 1196h1v1h-1zM694 1195h2v1h-2zM696 1194h1v1h-1zM697 1193h2v1h-2zM699 1192h1v1h-1zM700 1191h2v1h-2zM702 1190h1v1h-1zM703 1191h1v1h-1zM704 1192h2v1h-2zM706 1193h1v1h-1zM707 1194h1v1h-1zM708 1195h1v1h-1zM709 1196h1v1h-1zM710 1197h2v1h-2zM712 1198h1v1h-1zM713 1199h1v1h-1zM714 1200h1v1h-1zM715 1201h2v1h-2zM717 1202h1v1h-1zM718 1203h1v2h-1zM719 1205h1v3h-1zM720 1208h1v3h-1zM721 1211h1v3h-1zM722 1214h1v3h-1zM723 1217h1v3h-1zM724 1220h1v3h-1zM725 1223h1v3h-1zM726 1226h1v2h-1zM727 1228h1v3h-1zM728 1231h1v3h-1zM729 1234h1v3h-1zM730 1237h1v3h-1zM731 1240h1v3h-1zM732 1243h1v3h-1zM733 1246h1v3h-1zM734 1249h1v2h-1zM735 1251h1v1h-1zM736 1252h2v1h-2zM738 1253h1v1h-1zM739 1254h1v1h-1zM740 1255h2v1h-2zM742 1256h1v1h-1zM743 1257h1v1h-1zM744 1258h2v1h-2zM746 1259h1v1h-1zM747 1260h1v1h-1zM748 1261h2v1h-2zM750 1262h1v1h-1zM751 1263h1v2h-1zM752 1265h1v1h-1zM753 1266h1v2h-1zM754 1268h1v2h-1zM755 1270h1v1h-1zM756 1271h1v2h-1zM757 1273h1v1h-1zM758 1274h1v2h-1zM759 1276h1v1h-1zM760 1277h1v2h-1zM761 1279h1v1h-1zM762 1280h1v2h-1zM763 1282h1v2h-1zM764 1284h1v1h-1zM765 1285h1v2h-1zM766 1287h2v1h-2zM768 1288h4v1h-4zM772 1289h4v1h-4zM776 1290h4v1h-4zM780 1291h6v1h-6zM786 1292h8v1h-8zM794 1293h7v1h-7zM801 1294h5v1h-5zM806 1295h6v1h-6zM812 1296h3v1h-3zM815 1295h1v1h-1zM816 1293h1v2h-1zM817 1292h1v1h-1zM818 1291h1v1h-1zM819 1290h1v1h-1zM820 1288h1v2h-1zM821 1287h1v1h-1zM822 1286h1v1h-1zM823 1285h1v1h-1zM824 1283h1v2h-1zM825 1282h1v1h-1zM826 1281h1v1h-1zM827 1280h1v1h-1zM828 1278h1v2h-1zM829 1277h1v1h-1zM830 1276h1v1h-1zM831 1275h2v1h-2zM833 1274h2v1h-2zM835 1273h2v1h-2zM837 1272h1v1h-1zM838 1271h2v1h-2zM840 1270h2v1h-2zM842 1269h2v1h-2zM844 1268h2v1h-2zM846 1266h1v2h-1zM847 1263h1v3h-1zM848 1260h1v3h-1zM849 1257h1v3h-1zM850 1254h1v3h-1zM851 1251h1v3h-1zM852 1248h1v3h-1zM853 1245h1v3h-1zM854 1242h1v3h-1zM855 1239h1v3h-1zM856 1236h1v3h-1zM857 1233h1v3h-1zM858 1230h1v3h-1zM859 1227h1v3h-1zM860 1224h1v3h-1zM861 1221h1v3h-1zM862 1219h1v2h-1zM863 1218h1v1h-1zM864 1216h1v2h-1zM865 1215h1v1h-1zM866 1214h1v1h-1zM867 1212h1v2h-1zM868 1211h1v1h-1zM869 1210h1v1h-1zM870 1208h1v2h-1zM871 1207h1v1h-1zM872 1206h1v1h-1zM873 1204h1v2h-1zM874 1203h1v1h-1zM875 1202h1v1h-1zM876 1200h1v2h-1zM877 1199h1v1h-1zM878 1198h1v1h-1zM879 1197h1v1h-1zM880 1196h2v1h-2zM882 1195h1v1h-1zM883 1194h1v1h-1zM884 1193h1v1h-1zM885 1192h1v1h-1zM886 1191h2v1h-2zM888 1190h1v1h-1zM889 1189h1v1h-1zM890 1188h1v1h-1zM891 1187h2v1h-2zM893 1186h1v1h-1zM894 1185h8v1h-8zM902 1184h9v1h-9zM911 1185h1v2h-1zM912 1187h1v1h-1zM913 1188h1v2h-1zM914 1190h1v2h-1zM915 1192h1v1h-1zM916 1193h1v2h-1zM917 1195h1v1h-1zM918 1196h1v2h-1zM919 1198h1v1h-1zM920 1199h1v2h-1zM921 1201h1v1h-1zM922 1202h1v2h-1zM923 1204h1v2h-1zM924 1206h1v1h-1zM925 1207h1v2h-1zM926 1209h17v1h-17zM943 1208h2v1h-2zM945 1207h1v1h-1zM946 1206h2v1h-2zM948 1205h1v1h-1zM949 1204h1v1h-1zM950 1203h2v1h-2zM952 1202h1v1h-1zM953 1201h2v1h-2zM955 1200h1v1h-1zM956 1199h2v1h-2zM958 1198h1v1h-1zM959 1199h1v1h-1zM960 1200h1v1h-1zM961 1201h1v1h-1zM962 1202h1v1h-1zM963 1203h1v1h-1zM964 1204h1v1h-1zM965 1205h1v1h-1zM966 1206h2v1h-2zM968 1207h1v1h-1zM969 1208h1v1h-1zM970 1209h1v1h-1zM971 1210h1v1h-1zM972 1211h1v1h-1zM973 1212h1v1h-1zM974 1213h18v1h-18zM992 1214h3v1h-3zM995 1215h3v1h-3zM998 1216h4v1h-4zM1002 1217h3v1h-3zM1005 1218h2v1h-2zM1007 1219h1v1h-1zM1008 1220h1v1h-1zM1009 1221h1v1h-1zM1010 1222h2v1h-2zM1012 1223h1v1h-1zM1013 1224h1v1h-1zM1014 1225h1v1h-1zM1015 1226h1v1h-1zM1016 1227h1v1h-1zM1017 1228h1v1h-1zM1018 1229h2v1h-2zM1020 1230h1v1h-1zM1021 1231h1v1h-1zM1022 1232h1v1h-1zM1023 1233h2v1h-2zM1025 1234h2v1h-2zM1027 1235h2v1h-2zM1029 1236h1v1h-1zM1030 1237h2v1h-2zM1032 1238h2v1h-2zM1034 1239h2v1h-2zM1036 1240h2v1h-2zM1038 1241h2v1h-2zM1040 1242h2v1h-2zM1042 1243h3v1h-3zM1045 1244h3v1h-3zM1048 1245h2v1h-2zM1050 1246h3v1h-3zM1053 1247h2v1h-2zM1055 1248h1v2h-1zM1056 1250h1v2h-1zM1057 1252h1v2h-1zM1058 1254h1v1h-1zM1059 1255h1v2h-1zM1060 1257h1v2h-1zM1061 1259h1v2h-1zM1062 1261h1v1h-1zM1063 1262h1v2h-1zM1064 1264h1v2h-1zM1065 1266h1v2h-1zM1066 1268h1v1h-1zM1067 1269h1v2h-1zM1068 1271h1v2h-1zM1069 1273h1v2h-1zM1070 1275h1v1h-1zM1071 1276h2v1h-2zM1073 1277h1v1h-1zM1074 1278h2v1h-2zM1076 1279h1v1h-1zM1077 1280h1v1h-1zM1078 1281h2v1h-2zM1080 1282h1v1h-1zM1081 1283h2v1h-2zM1083 1284h1v1h-1zM1084 1285h2v1h-2zM1086 1286h1v1h-1zM1087 1285h1v1h-1zM1088 1284h1v1h-1zM1089 1282h1v2h-1zM1090 1281h1v1h-1zM1091 1280h1v1h-1zM1092 1279h1v1h-1zM1093 1278h1v1h-1zM1094 1276h1v2h-1zM1095 1275h1v1h-1zM1096 1274h1v1h-1zM1097 1273h1v1h-1zM1098 1272h1v1h-1zM1099 1270h1v2h-1zM1100 1269h1v1h-1zM1101 1268h1v1h-1zM1102 1267h17v1h-17zM1119 1268h2v1h-2zM1121 1269h2v1h-2zM1123 1270h2v1h-2zM1125 1271h1v1h-1zM1126 1272h2v1h-2zM1128 1273h2v1h-2zM1130 1274h2v1h-2zM1132 1275h2v1h-2zM1134 1276h2v1h-2zM1136 1277h3v1h-3zM1139 1278h3v1h-3zM1142 1279h4v1h-4zM1146 1280h3v1h-3zM1149 1281h2v1h-2zM1151 1279h1v2h-1zM1152 1278h1v1h-1zM1153 1276h1v2h-1zM1154 1275h1v1h-1zM1155 1273h1v2h-1zM1156 1272h1v1h-1zM1157 1270h1v2h-1zM1158 1269h1v1h-1zM1159 1267h1v2h-1zM1160 1266h1v1h-1zM1161 1264h1v2h-1zM1162 1263h1v1h-1zM1163 1261h1v2h-1zM1164 1260h1v1h-1zM1165 1258h1v2h-1zM1166 1257h2v1h-2zM1168 1258h2v1h-2zM1170 1259h2v1h-2zM1172 1260h2v1h-2zM1174 1261h3v1h-3zM1177 1262h2v1h-2zM1179 1263h2v1h-2zM1181 1264h18v1h-18zM1199 1263h1v1h-1zM1200 1261h1v2h-1zM1201 1260h1v1h-1zM1202 1259h1v1h-1zM1203 1257h1v2h-1zM1204 1256h1v1h-1zM1205 1255h1v1h-1zM1206 1253h1v2h-1zM1207 1252h1v1h-1zM1208 1251h1v1h-1zM1209 1249h1v2h-1zM1210 1248h1v1h-1zM1211 1247h1v1h-1zM1212 1245h1v2h-1zM1213 1244h1v1h-1zM1214 1243h2v1h-2zM1216 1242h2v1h-2zM1218 1241h2v1h-2zM1220 1240h2v1h-2zM1222 1239h3v1h-3zM1225 1238h2v1h-2zM1227 1237h2v1h-2zM1229 1236h4v1h-4zM1233 1237h5v1h-5zM1238 1238h6v1h-6zM1244 1239h19v1h-19zM1263 1240h1v1h-1zM1264 1241h1v2h-1zM1265 1243h1v1h-1zM1266 1244h1v1h-1zM1267 1245h1v1h-1zM1268 1246h1v2h-1zM1269 1248h1v1h-1zM1270 1249h1v1h-1zM1271 1250h1v1h-1zM1272 1251h1v2h-1zM1273 1253h1v1h-1zM1274 1254h1v1h-1zM1275 1255h1v1h-1zM1276 1256h1v2h-1zM1277 1258h1v1h-1zM1278 1259h1v1h-1zM1279 1260h1v1h-1zM1280 1261h1v1h-1zM1281 1262h1v1h-1zM1282 1263h2v1h-2zM1284 1264h1v1h-1zM1285 1265h1v1h-1zM1286 1266h1v1h-1zM1287 1267h1v1h-1zM1288 1268h1v1h-1zM1289 1269h1v1h-1zM1290 1270h2v1h-2zM1292 1271h1v1h-1zM1293 1272h1v1h-1zM1294 1273h2v1h-2zM1296 1274h4v1h-4zM1300 1275h4v1h-4zM1304 1276h4v1h-4zM1308 1277h4v1h-4zM1312 1278h3v1h-3zM1315 1279h3v1h-3zM1318 1280h4v1h-4zM1322 1281h3v1h-3zM1325 1282h3v1h-3zM1328 1283h3v1h-3zM1331 1284h3v1h-3zM1334 1285h4v1h-4zM1338 1286h3v1h-3zM1341 1287h2v1h-2zM1342 1286h1v1h-1zM1343 1284h1v2h-1zM1344 1281h1v3h-1zM1345 1279h1v2h-1zM1346 1277h1v2h-1zM1347 1274h1v3h-1zM1348 1272h1v2h-1zM1349 1269h1v3h-1zM1350 1267h1v2h-1zM1351 1264h1v3h-1zM1352 1262h1v2h-1zM1353 1259h1v3h-1zM1354 1257h1v2h-1zM1355 1255h1v2h-1zM1356 1252h1v3h-1zM1357 1250h1v2h-1zM1358 1248h1v2h-1zM1359 1246h1v2h-1zM1360 1245h1v1h-1zM1361 1243h1v2h-1zM1362 1242h1v1h-1zM1363 1241h1v1h-1zM1364 1239h1v2h-1zM1365 1238h1v1h-1zM1366 1236h1v2h-1zM1367 1235h1v1h-1zM1368 1233h1v2h-1zM1369 1232h1v1h-1zM1370 1231h1v1h-1zM1371 1229h1v2h-1zM1372 1228h1v1h-1zM1373 1226h1v2h-1zM1374 1225h4v1h-4zM1378 1226h8v1h-8zM1386 1227h6v1h-6zM1392 1228h4v1h-4zM1396 1229h4v1h-4zM1400 1230h4v1h-4zM1404 1231h3v1h-3zM1407 1232h2v1h-2zM1409 1233h2v1h-2zM1411 1234h2v1h-2zM1413 1235h2v1h-2zM1415 1236h2v1h-2zM1417 1237h2v1h-2zM1419 1238h2v1h-2zM1421 1239h2v1h-2zM1423 1238h1v1h-1zM1424 1237h1v1h-1zM1425 1236h1v1h-1zM1426 1235h1v1h-1zM1427 1234h1v1h-1zM1428 1233h1v1h-1zM1429 1232h1v1h-1zM1430 1231h2v1h-2zM1432 1230h1v1h-1zM1433 1229h1v1h-1zM1434 1228h1v1h-1zM1435 1227h1v1h-1zM1436 1226h1v1h-1zM1437 1225h1v1h-1zM1438 1224h2v1h-2zM1440 1223h4v1h-4zM1444 1222h4v1h-4zM1448 1221h4v1h-4zM1452 1220h4v1h-4zM1456 1221h3v1h-3zM1459 1222h3v1h-3zM1462 1223h4v1h-4zM1466 1224h3v1h-3zM1469 1225h2v1h-2zM1471 1226h2v1h-2zM1473 1227h2v1h-2zM1475 1228h2v1h-2zM1477 1229h1v1h-1zM1478 1230h2v1h-2zM1480 1231h2v1h-2zM1482 1232h2v1h-2zM1484 1233h2v1h-2zM1486 1234h1v1h-1zM1487 1232h1v2h-1zM1488 1230h1v2h-1zM1489 1228h1v2h-1zM1490 1226h1v2h-1zM1491 1224h1v2h-1zM1492 1222h1v2h-1zM1493 1220h1v2h-1zM1494 1219h1v1h-1zM1495 1217h1v2h-1zM1496 1215h1v2h-1zM1497 1213h1v2h-1zM1498 1211h1v2h-1zM1499 1209h1v2h-1zM1500 1207h1v2h-1zM1501 1205h1v2h-1zM1502 1204h1v1h-1zM1503 1202h1v2h-1zM1504 1200h1v2h-1zM1505 1198h1v2h-1zM1506 1197h1v1h-1zM1507 1195h1v2h-1zM1508 1193h1v2h-1zM1509 1191h1v2h-1zM1510 1190h1v1h-1zM1511 1188h1v2h-1zM1512 1186h1v2h-1zM1513 1184h1v2h-1zM1514 1183h1v1h-1zM1515 1181h1v2h-1zM1516 1179h1v2h-1zM1517 1177h1v2h-1zM1518 1176h2v1h-2zM1520 1175h2v1h-2zM1522 1174h3v1h-3zM1525 1173h3v1h-3zM1528 1172h2v1h-2zM1530 1171h3v1h-3zM1533 1170h3v1h-3zM1536 1169h3v1h-3zM1539 1168h3v1h-3zM1542 1167h4v1h-4zM1546 1166h3v1h-3zM1549 1165h2v1h-2zM1551 1164h1v1h-1zM1552 1163h1v1h-1zM1553 1162h1v1h-1zM1554 1160h1v2h-1zM1555 1159h1v1h-1zM1556 1158h1v1h-1zM1557 1157h1v1h-1zM1558 1156h1v1h-1zM1559 1155h1v1h-1zM1560 1154h1v1h-1zM1561 1153h1v1h-1zM1562 1151h1v2h-1zM1563 1150h1v1h-1zM1564 1149h1v1h-1zM1565 1148h1v1h-1zM1566 1147h1v1h-1zM1567 1146h1v1h-1zM1568 1145h2v1h-2zM1570 1144h1v1h-1zM1571 1143h1v1h-1zM1572 1142h2v1h-2zM1574 1141h1v1h-1zM1575 1140h1v1h-1zM1576 1139h2v1h-2zM1578 1138h1v1h-1zM1579 1137h1v1h-1zM1580 1136h2v1h-2zM1582 1135h4v1h-4zM1586 1136h8v1h-8zM1594 1137h5v1h-5zM1599 1136h2v1h-2zM1601 1135h2v1h-2zM1603 1134h2v1h-2zM1605 1133h1v1h-1zM1606 1132h2v1h-2zM1608 1131h2v1h-2zM1610 1130h2v1h-2zM1612 1129h2v1h-2zM1614 1128h2v1h-2zM1616 1127h4v1h-4zM1620 1126h4v1h-4zM1624 1125h4v1h-4zM1628 1124h4v1h-4zM1632 1123h3v1h-3zM1635 1122h3v1h-3zM1638 1121h4v1h-4zM1642 1120h3v1h-3zM1645 1119h5v1h-5zM1650 1118h8v1h-8zM1658 1117h5v1h-5zM1663 1118h1v1h-1zM1664 1119h2v1h-2zM1666 1120h1v1h-1zM1667 1121h1v1h-1zM1668 1122h2v1h-2zM1670 1123h1v1h-1zM1671 1124h1v1h-1zM1672 1125h2v1h-2zM1674 1126h1v1h-1zM1675 1127h1v1h-1zM1676 1128h2v1h-2zM1678 1129h2v1h-2zM1680 1128h2v1h-2zM1682 1127h2v1h-2zM1684 1126h2v1h-2zM1686 1125h3v1h-3zM1689 1124h2v1h-2zM1691 1123h2v1h-2zM1693 1122h3v1h-3zM1696 1121h3v1h-3zM1699 1120h3v1h-3zM1702 1119h4v1h-4zM1706 1118h3v1h-3zM1709 1117h2v1h-2zM1710 1118h1v1h-1zM1711 1119h1v2h-1zM1712 1121h1v2h-1zM1713 1123h1v2h-1zM1714 1125h1v2h-1zM1715 1127h1v3h-1zM1716 1130h1v2h-1zM1717 1132h1v2h-1zM1718 1134h1v2h-1zM1719 1136h1v2h-1zM1720 1138h1v2h-1zM1721 1140h1v3h-1zM1722 1143h1v2h-1zM1723 1145h1v2h-1zM1724 1147h1v2h-1zM1725 1149h1v2h-1zM1726 1151h1v2h-1zM1727 1153h1v2h-1zM1728 1155h1v1h-1zM1729 1156h1v2h-1zM1730 1158h1v1h-1zM1731 1159h1v2h-1zM1732 1161h1v1h-1zM1733 1162h1v2h-1zM1734 1164h1v1h-1zM1735 1165h1v2h-1zM1736 1167h1v1h-1zM1737 1168h1v2h-1zM1738 1170h1v1h-1zM1739 1171h1v2h-1zM1740 1173h1v1h-1zM1741 1174h1v2h-1zM1742 1176h1v1h-1zM1743 1174h1v2h-1zM1744 1172h1v2h-1zM1745 1171h1v1h-1zM1746 1169h1v2h-1zM1747 1168h1v1h-1zM1748 1166h1v2h-1zM1749 1164h1v2h-1zM1750 1163h1v1h-1zM1751 1161h1v2h-1zM1752 1159h1v2h-1zM1753 1158h1v1h-1zM1754 1156h1v2h-1zM1755 1155h1v1h-1zM1756 1153h1v2h-1zM1757 1151h1v2h-1zM1758 1150h1v1h-1zM1759 1149h1v1h-1zM1760 1148h1v1h-1zM1761 1147h1v1h-1zM1762 1146h2v1h-2zM1764 1145h1v1h-1zM1765 1144h1v1h-1zM1766 1143h1v1h-1zM1767 1142h1v1h-1zM1768 1141h1v1h-1zM1769 1140h1v1h-1zM1770 1139h2v1h-2zM1772 1138h1v1h-1zM1773 1137h1v1h-1zM1774 1136h18v1h-18zM1792 1135h3v1h-3zM1795 1134h3v1h-3zM1798 1133h4v1h-4zM1802 1132h3v1h-3zM1805 1131h3v1h-3zM1808 1130h3v1h-3zM1811 1129h3v1h-3zM1814 1128h4v1h-4zM1818 1127h3v1h-3zM1821 1126h3v1h-3zM1824 1125h2v1h-2zM1826 1124h2v1h-2zM1828 1123h2v1h-2zM1830 1122h3v1h-3zM1833 1121h2v1h-2zM1835 1120h2v1h-2zM1837 1119h3v1h-3zM1840 1120h2v1h-2zM1842 1121h2v1h-2zM1844 1122h2v1h-2zM1846 1123h3v1h-3zM1849 1124h2v1h-2zM1851 1125h2v1h-2zM1853 1126h5v1h-5zM1858 1125h8v1h-8zM1866 1124h7v1h-7zM1873 1123h5v1h-5zM1878 1122h6v1h-6zM1884 1121h3v1h-3zM1887 1120h2v1h-2zM1889 1119h2v1h-2zM1891 1118h2v1h-2zM1893 1117h1v1h-1zM1894 1116h2v1h-2zM1896 1115h2v1h-2zM1898 1114h2v1h-2zM1900 1113h2v1h-2zM1902 1112h1v1h-1zM1903 1111h2v1h-2zM1905 1110h2v1h-2zM1907 1109h2v1h-2zM1909 1108h2v1h-2zM1911 1107h2v1h-2zM1913 1106h2v1h-2zM1915 1105h2v1h-2zM1917 1104h3v1h-3zM1920 1103h3v1h-3zM1923 1102h3v1h-3zM1926 1101h4v1h-4zM1930 1100h3v1h-3zM1933 1099h2v1h-2zM1935 1100h1v2h-1zM1936 1102h1v2h-1zM1937 1104h1v2h-1zM1938 1106h1v1h-1zM1939 1107h1v2h-1zM1940 1109h1v2h-1zM1941 1111h1v2h-1zM1942 1113h1v1h-1zM1943 1114h1v2h-1zM1944 1116h1v2h-1zM1945 1118h1v2h-1zM1946 1120h1v1h-1zM1947 1121h1v2h-1zM1948 1123h1v2h-1zM1949 1125h1v2h-1zM1950 1127h1v1h-1zM1951 1126h2v1h-2zM1953 1125h2v1h-2zM1955 1124h2v1h-2zM1957 1123h1v1h-1zM1958 1122h2v1h-2zM1960 1121h2v1h-2zM1962 1120h2v1h-2zM1964 1119h2v1h-2zM1966 1118h2v1h-2zM1968 1117h4v1h-4zM1972 1116h4v1h-4zM1976 1115h4v1h-4zM1980 1114h5v1h-5zM1985 1113h5v1h-5zM1990 1112h6v1h-6zM1996 1111h3v1h-3zM1998 1112h1v2h-1zM1999 1114h1v4h-1zM2000 1118h1v5h-1zM2001 1123h1v5h-1zM2002 1128h1v4h-1zM2003 1132h1v5h-1zM2004 1137h1v5h-1zM2005 1142h1v4h-1zM2006 1146h1v5h-1zM2007 1151h1v4h-1zM2008 1155h1v5h-1zM2009 1160h1v5h-1zM2010 1165h1v4h-1zM2011 1169h1v5h-1zM2012 1174h1v5h-1zM2013 1179h1v4h-1zM2014 1183h1v3h-1zM2015 1186h1v2h-1zM2016 1188h1v2h-1zM2017 1190h1v2h-1zM2018 1192h1v2h-1zM2019 1194h1v2h-1zM2020 1196h1v2h-1zM2021 1198h1v2h-1zM2022 1200h1v2h-1zM2023 1202h1v2h-1zM2024 1204h1v2h-1zM2025 1206h1v2h-1zM2026 1208h1v2h-1zM2027 1210h1v2h-1zM2028 1212h1v2h-1zM2029 1214h1v2h-1zM2030 1216h2v1h-2zM2030 1217h1v1h-1zM2032 1215h1v1h-1zM2033 1214h1v1h-1zM2034 1213h1v1h-1zM2035 1212h1v1h-1zM2036 1211h1v1h-1zM2037 1210h1v1h-1zM2038 1208h1v2h-1zM2039 1207h1v1h-1zM2040 1206h1v1h-1zM2041 1205h1v1h-1zM2042 1204h1v1h-1zM2043 1203h1v1h-1zM2044 1202h1v1h-1zM2045 1201h1v1h-1zM2046 1200h1v1h-1zM2047 1201h1v2h-1zM2048 1203h1v1h-1zM2049 1204h1v2h-1zM2050 1206h1v1h-1zM2051 1207h1v2h-1zM2052 1209h1v1h-1zM2053 1210h1v2h-1zM2054 1212h1v1h-1zM2055 1213h1v2h-1zM2056 1215h1v1h-1zM2057 1216h1v2h-1zM2058 1218h1v1h-1zM2059 1219h1v2h-1zM2060 1221h1v1h-1zM2061 1222h1v2h-1zM2062 1224h1v1h-1zM2063 1225h1v2h-1zM2064 1227h1v1h-1zM2065 1228h1v2h-1zM2066 1230h1v1h-1zM2067 1231h1v2h-1zM2068 1233h1v1h-1zM2069 1234h1v2h-1zM2070 1236h1v1h-1zM2071 1237h1v2h-1zM2072 1239h1v1h-1zM2073 1240h1v2h-1zM2074 1242h1v1h-1zM2075 1243h1v2h-1zM2076 1245h1v1h-1zM2077 1246h1v2h-1zM2078 1248h2v1h-2zM2080 1249h2v1h-2zM2082 1250h3v1h-3zM2085 1251h3v1h-3zM2088 1252h2v1h-2zM2090 1253h3v1h-3zM2093 1254h3v1h-3zM2096 1253h2v1h-2zM2098 1252h3v1h-3zM2101 1251h3v1h-3zM2104 1250h2v1h-2zM2106 1249h3v1h-3zM2109 1248h9v1h-9zM2118 1247h10v1h-10zM2128 1246h4v1h-4zM2132 1245h4v1h-4zM2136 1244h4v1h-4zM2140 1243h3v1h-3zM2143 1242h1v1h-1zM2144 1241h1v1h-1zM2145 1240h1v1h-1zM2146 1239h2v1h-2zM2148 1238h1v1h-1zM2149 1237h1v1h-1zM2150 1236h1v1h-1zM2151 1235h1v1h-1zM2152 1234h1v1h-1zM2153 1233h1v1h-1zM2154 1232h2v1h-2zM2156 1231h1v1h-1zM2157 1230h1v1h-1zM2158 1229h2v1h-2zM2160 1230h3v1h-3zM2163 1231h3v1h-3zM2166 1232h4v1h-4zM2170 1233h3v1h-3zM2173 1234h2v1h-2zM2175 1233h1v1h-1zM2176 1232h2v1h-2zM2178 1231h1v1h-1zM2179 1230h1v1h-1zM2180 1229h1v1h-1zM2181 1228h1v1h-1zM2182 1227h2v1h-2zM2184 1226h1v1h-1zM2185 1225h1v1h-1zM2186 1224h1v1h-1zM2187 1223h2v1h-2zM2189 1222h1v1h-1zM2190 1221h2v1h-2zM2192 1220h2v1h-2zM2194 1219h3v1h-3zM2197 1218h3v1h-3zM2200 1217h2v1h-2zM2202 1216h3v1h-3zM2205 1215h2v1h-2zM2207 1214h1v1h-1zM2208 1212h1v2h-1zM2209 1211h1v1h-1zM2210 1210h1v1h-1zM2211 1209h1v1h-1zM2212 1207h1v2h-1zM2213 1206h1v1h-1zM2214 1205h1v1h-1zM2215 1204h1v1h-1zM2216 1202h1v2h-1zM2217 1201h1v1h-1zM2218 1200h1v1h-1zM2219 1199h1v1h-1zM2220 1197h1v2h-1zM2221 1196h1v1h-1zM2222 1195h1v1h-1zM2223 1194h2v1h-2zM2225 1193h1v1h-1zM2226 1192h2v1h-2zM2228 1191h1v1h-1zM2229 1190h1v1h-1zM2230 1189h2v1h-2zM2232 1188h1v1h-1zM2233 1187h2v1h-2zM2235 1186h1v1h-1zM2236 1185h2v1h-2zM2238 1184h2v1h-2zM2240 1185h4v1h-4zM2244 1186h4v1h-4zM2248 1187h4v1h-4zM2252 1188h3v1h-3zM2255 1189h1v1h-1zM2256 1190h1v1h-1zM2257 1191h1v1h-1zM2258 1192h1v2h-1zM2259 1194h1v1h-1zM2260 1195h1v1h-1zM2261 1196h1v1h-1zM2262 1197h1v1h-1zM2263 1198h1v1h-1zM2264 1199h1v1h-1zM2265 1200h1v1h-1zM2266 1201h1v2h-1zM2267 1203h1v1h-1zM2268 1204h1v1h-1zM2269 1205h1v1h-1zM2270 1206h2v1h-2zM2272 1207h3v1h-3zM2275 1208h3v1h-3zM2278 1209h4v1h-4zM2282 1210h3v1h-3zM2285 1211h2v1h-2zM2287 1212h1v1h-1zM2288 1213h1v1h-1zM2289 1214h1v1h-1zM2290 1215h2v1h-2zM2292 1216h1v1h-1zM2293 1217h1v1h-1zM2294 1218h1v1h-1zM2295 1219h1v1h-1zM2296 1220h1v1h-1zM2297 1221h1v1h-1zM2298 1222h2v1h-2zM2300 1223h1v1h-1zM2301 1224h1v1h-1zM2302 1225h1v1h-1zM2303 1224h1v1h-1zM2304 1223h1v1h-1zM2305 1222h1v1h-1zM2306 1221h2v1h-2zM2308 1220h1v1h-1zM2309 1219h1v1h-1zM2310 1218h1v1h-1zM2311 1217h1v1h-1zM2312 1216h1v1h-1zM2313 1215h1v1h-1zM2314 1214h2v1h-2zM2316 1213h1v1h-1zM2317 1212h1v1h-1zM2318 1211h1v1h-1zM2319 1210h1v1h-1zM2320 1208h1v2h-1zM2321 1207h1v1h-1zM2322 1206h1v1h-1zM2323 1204h1v2h-1zM2324 1203h1v1h-1zM2325 1202h1v1h-1zM2326 1200h1v2h-1zM2327 1199h1v1h-1zM2328 1198h1v1h-1zM2329 1196h1v2h-1zM2330 1195h1v1h-1zM2331 1194h1v1h-1zM2332 1192h1v2h-1zM2333 1191h1v1h-1zM2334 1190h4v1h-4zM2338 1191h8v1h-8zM2346 1192h6v1h-6zM2352 1193h2v1h-2zM2354 1194h3v1h-3zM2357 1195h3v1h-3zM2360 1196h2v1h-2zM2362 1197h3v1h-3zM2365 1198h3v1h-3zM2368 1199h3v1h-3zM2371 1200h3v1h-3zM2374 1201h4v1h-4zM2378 1202h3v1h-3zM2381 1203h2v1h-2zM2383 1201h1v2h-1zM2384 1199h1v2h-1zM2385 1197h1v2h-1zM2386 1195h1v2h-1zM2387 1194h1v1h-1zM2388 1192h1v2h-1zM2389 1190h1v2h-1zM2390 1188h1v2h-1zM2391 1186h1v2h-1zM2392 1184h1v2h-1zM2393 1183h1v1h-1zM2394 1181h1v2h-1zM2395 1179h1v2h-1zM2396 1177h1v2h-1zM2397 1175h1v2h-1zM2398 1174h1v1h-1zM2399 1172h1v2h-1zM2400 1171h1v1h-1zM2401 1169h1v2h-1zM2402 1167h1v2h-1zM2403 1166h1v1h-1zM2404 1164h1v2h-1zM2405 1163h1v1h-1zM2406 1161h1v2h-1zM2407 1160h1v1h-1zM2408 1158h1v2h-1zM2409 1157h1v1h-1zM2410 1155h1v2h-1zM2411 1153h1v2h-1zM2412 1152h1v1h-1zM2413 1150h1v2h-1zM2414 1149h1v1h-1zM2415 1150h2v1h-2zM2417 1151h2v1h-2zM2419 1152h2v1h-2zM2421 1153h2v1h-2zM2423 1154h2v1h-2zM2425 1155h2v1h-2zM2427 1156h2v1h-2zM2429 1157h2v1h-2zM2431 1158h2v1h-2zM2433 1159h2v1h-2zM2435 1160h2v1h-2zM2437 1161h2v1h-2zM2439 1162h2v1h-2zM2441 1163h2v1h-2zM2443 1164h2v1h-2zM2445 1165h5v1h-5zM2450 1164h8v1h-8zM2458 1163h5v1h-5zM2462 1164h1v1h-1zM2463 1165h1v2h-1zM2464 1167h1v2h-1zM2465 1169h1v3h-1zM2466 1172h1v2h-1zM2467 1174h1v3h-1zM2468 1177h1v2h-1zM2469 1179h1v2h-1zM2470 1181h1v3h-1zM2471 1184h1v2h-1zM2472 1186h1v2h-1zM2473 1188h1v3h-1zM2474 1191h1v2h-1zM2475 1193h1v3h-1zM2476 1196h1v2h-1zM2477 1198h1v2h-1zM2478 1200h1v2h-1zM2479 1202h1v2h-1zM2480 1204h1v1h-1zM2481 1205h1v2h-1zM2482 1207h1v2h-1zM2483 1209h1v1h-1zM2484 1210h1v2h-1zM2485 1212h1v1h-1zM2486 1213h1v2h-1zM2487 1215h1v1h-1zM2488 1216h1v2h-1zM2489 1218h1v1h-1zM2490 1219h1v2h-1zM2491 1221h1v2h-1zM2492 1223h1v1h-1zM2493 1224h1v2h-1zM2494 1226h1v1h-1zM2495 1227h1v1h-1zM2496 1228h2v1h-2zM2498 1229h1v1h-1zM2499 1230h1v1h-1zM2500 1231h1v1h-1zM2501 1232h1v1h-1zM2502 1233h2v1h-2zM2504 1234h1v1h-1zM2505 1235h1v1h-1zM2506 1236h1v1h-1zM2507 1237h2v1h-2zM2509 1238h1v1h-1zM2510 1239h1v1h-1zM2511 1237h1v2h-1zM2512 1236h1v1h-1zM2513 1234h1v2h-1zM2514 1233h1v1h-1zM2515 1231h1v2h-1zM2516 1230h1v1h-1zM2517 1228h1v2h-1zM2518 1227h1v1h-1zM2519 1225h1v2h-1zM2520 1224h1v1h-1zM2521 1222h1v2h-1zM2522 1221h1v1h-1zM2523 1219h1v2h-1zM2524 1218h1v1h-1zM2525 1216h1v2h-1zM2526 1215h1v1h-1zM2527 1214h1v1h-1zM2528 1212h1v2h-1zM2529 1211h1v1h-1zM2530 1210h1v1h-1zM2531 1209h1v1h-1zM2532 1207h1v2h-1zM2533 1206h1v1h-1zM2534 1205h1v1h-1zM2535 1204h1v1h-1zM2536 1202h1v2h-1zM2537 1201h1v1h-1zM2538 1200h1v1h-1zM2539 1199h1v1h-1zM2540 1197h1v2h-1zM2541 1196h1v1h-1zM2542 1195h1v1h-1zM2543 1196h1v1h-1zM2544 1197h2v1h-2zM2546 1198h1v1h-1zM2547 1199h1v1h-1zM2548 1200h2v1h-2zM2550 1201h1v1h-1zM2551 1202h1v1h-1zM2552 1203h2v1h-2zM2554 1204h1v1h-1zM2555 1205h1v1h-1zM2556 1206h2v1h-2zM2558 1207h3v1h-3zM2561 1206h5v1h-5zM2566 1205h6v1h-6zM2572 1204h10v1h-10zM2582 1205h9v1h-9zM2591 1204h1v1h-1zM2592 1203h2v1h-2zM2594 1202h1v1h-1zM2595 1201h1v1h-1zM2596 1200h2v1h-2zM2598 1199h1v1h-1zM2599 1198h1v1h-1zM2600 1197h2v1h-2zM2602 1196h1v1h-1zM2603 1195h1v1h-1zM2604 1194h2v1h-2zM2606 1193h18v1h-18zM2624 1192h2v1h-2zM2626 1191h3v1h-3zM2629 1190h3v1h-3zM2632 1189h2v1h-2zM2634 1188h3v1h-3zM2637 1187h3v1h-3zM2640 1188h3v1h-3zM2643 1189h3v1h-3zM2646 1190h4v1h-4zM2650 1191h3v1h-3zM2653 1192h3v1h-3zM2656 1193h2v1h-2zM2658 1194h2v1h-2zM2660 1195h2v1h-2zM2662 1196h3v1h-3zM2665 1197h2v1h-2zM2667 1198h2v1h-2zM2669 1199h5v1h-5zM2674 1198h8v1h-8zM2682 1197h5v1h-5zM2687 1196h1v1h-1zM2688 1195h1v1h-1zM2689 1194h1v1h-1zM2690 1193h2v1h-2zM2692 1192h1v1h-1zM2693 1191h1v1h-1zM2694 1190h1v1h-1zM2695 1189h1v1h-1zM2696 1188h1v1h-1zM2697 1187h1v1h-1zM2698 1186h2v1h-2zM2700 1185h1v1h-1zM2701 1184h1v1h-1zM2702 1183h1v1h-1zM2703 1184h1v1h-1zM2704 1185h1v1h-1zM2705 1186h1v2h-1zM2706 1188h1v1h-1zM2707 1189h1v1h-1zM2708 1190h1v1h-1zM2709 1191h1v1h-1zM2710 1192h1v2h-1zM2711 1194h1v1h-1zM2712 1195h1v1h-1zM2713 1196h1v1h-1zM2714 1197h1v1h-1zM2715 1198h1v2h-1zM2716 1200h1v1h-1zM2717 1201h1v1h-1zM2718 1202h1v1h-1zM2719 1201h1v1h-1zM2720 1200h2v1h-2zM2722 1199h1v1h-1zM2723 1198h1v1h-1zM2724 1197h1v1h-1zM2725 1196h1v1h-1zM2726 1195h2v1h-2zM2728 1194h1v1h-1zM2729 1193h1v1h-1zM2730 1192h1v1h-1zM2731 1191h2v1h-2zM2733 1190h1v1h-1zM2734 1189h1v1h-1zM2735 1187h1v2h-1zM2736 1186h1v1h-1zM2737 1184h1v2h-1zM2738 1182h1v2h-1zM2739 1181h1v1h-1zM2740 1179h1v2h-1zM2741 1178h1v1h-1zM2742 1176h1v2h-1zM2743 1175h1v1h-1zM2744 1173h1v2h-1zM2745 1172h1v1h-1zM2746 1170h1v2h-1zM2747 1168h1v2h-1zM2748 1167h1v1h-1zM2749 1165h1v2h-1zM2750 1164h1v1h-1zM2751 1165h2v1h-2zM2753 1166h2v1h-2zM2755 1167h2v1h-2zM2757 1168h2v1h-2zM2759 1169h2v1h-2zM2761 1170h2v1h-2zM2763 1171h2v1h-2zM2765 1172h2v1h-2zM2767 1173h1v1h-1zM2768 1174h2v1h-2zM2770 1175h1v1h-1zM2771 1176h1v1h-1zM2772 1177h2v1h-2zM2774 1178h1v1h-1zM2775 1179h1v1h-1zM2776 1180h2v1h-2zM2778 1181h1v1h-1zM2779 1182h1v1h-1zM2780 1183h2v1h-2zM2782 1184h1v1h-1zM2783 1183h2v1h-2zM2785 1182h1v1h-1zM2786 1181h2v1h-2zM2788 1180h1v1h-1zM2789 1179h1v1h-1zM2790 1178h2v1h-2zM2792 1177h1v1h-1zM2793 1176h2v1h-2zM2795 1175h1v1h-1zM2796 1174h2v1h-2zM2798 1173h1v1h-1zM2799 1174h1v1h-1zM2800 1175h1v1h-1zM2801 1176h1v1h-1zM2802 1177h1v1h-1zM2803 1178h1v1h-1zM2804 1179h1v1h-1zM2805 1180h1v1h-1zM2806 1181h1v2h-1zM2807 1183h1v1h-1zM2808 1184h1v1h-1zM2809 1185h1v1h-1zM2810 1186h1v1h-1zM2811 1187h1v1h-1zM2812 1188h1v1h-1zM2813 1189h1v1h-1zM2814 1190h1v1h-1zM2815 1191h1v1h-1zM2816 1192h1v2h-1zM2817 1194h1v1h-1zM2818 1195h1v1h-1zM2819 1196h1v1h-1zM2820 1197h1v2h-1zM2821 1199h1v1h-1zM2822 1200h1v1h-1zM2823 1201h1v1h-1zM2824 1202h1v2h-1zM2825 1204h1v1h-1zM2826 1205h1v1h-1zM2827 1206h1v1h-1zM2828 1207h1v2h-1zM2829 1209h1v1h-1zM2830 1210h1v1h-1zM2831 1211h1v2h-1zM2832 1213h1v2h-1zM2833 1215h1v2h-1zM2834 1217h1v2h-1zM2835 1219h1v2h-1zM2836 1221h1v2h-1zM2837 1223h1v2h-1zM2838 1225h1v2h-1zM2839 1227h1v2h-1zM2840 1229h1v2h-1zM2841 1231h1v2h-1zM2842 1233h1v2h-1zM2843 1235h1v2h-1zM2844 1237h1v2h-1zM2845 1239h1v2h-1zM2846 1241h1v1h-1zM2846 1242h2v1h-2zM2848 1243h2v1h-2zM2850 1244h3v1h-3zM2853 1245h3v1h-3zM2856 1246h2v1h-2zM2858 1247h3v1h-3zM2861 1248h3v1h-3zM2864 1249h2v1h-2zM2866 1250h2v1h-2zM2868 1251h2v1h-2zM2870 1252h3v1h-3zM2873 1253h2v1h-2zM2875 1254h2v1h-2zM2877 1255h2v1h-2zM2878 1254h1v1h-1zM2879 1250h1v4h-1zM2880 1247h1v3h-1zM2881 1243h1v4h-1zM2882 1240h1v3h-1zM2883 1236h1v4h-1zM2884 1233h1v3h-1zM2885 1229h1v4h-1zM2886 1226h1v3h-1zM2887 1222h1v4h-1zM2888 1219h1v3h-1zM2889 1215h1v4h-1zM2890 1212h1v3h-1zM2891 1208h1v4h-1zM2892 1205h1v3h-1zM2893 1201h1v4h-1zM2894 1199h3v1h-3zM2894 1200h1v1h-1zM2897 1200h5v1h-5zM2902 1201h6v1h-6zM2908 1202h3v1h-3z"/>
<circle cx="93.5" cy="1173.5" r="1.6" fill="#ff0000"/>
<circle cx="141.5" cy="1150.8" r="1.6" fill="#ff0000"/>
<circle cx="237.5" cy="1112.5" r="1.6" fill="#ff0000"/>
<circle cx="573.5" cy="1214.8" r="1.6" fill="#ff0000"/>
<circle cx="669.5" cy="1197.5" r="1.6" fill="#ff0000"/>
<circle cx="701.5" cy="1190.8" r="1.6" fill="#ff0000"/>
<circle cx="909.5" cy="1184.5" r="1.6" fill="#ff0000"/>
<circle cx="1165.5" cy="1257.8" r="1.6" fill="#ff0000"/>
<circle cx="1229.5" cy="1236.5" r="1.6" fill="#ff0000"/>
<circle cx="1373.5" cy="1225.8" r="1.6" fill="#ff0000"/>
<circle cx="1453.5" cy="1220.8" r="1.6" fill="#ff0000"/>
<circle cx="1581.5" cy="1135.8" r="1.6" fill="#ff0000"/>
<circle cx="1661.5" cy="1117.5" r="1.6" fill="#ff0000"/>
<circle cx="1709.5" cy="1117.8" r="1.6" fill="#ff0000"/>
<circle cx="1837.5" cy="1119.5" r="1.6" fill="#ff0000"/>
<circle cx="1933.5" cy="1099.5" r="1.6" fill="#ff0000"/>
<circle cx="2157.5" cy="1229.5" r="1.6" fill="#ff0000"/>
<circle cx="2237.5" cy="1184.5" r="1.6" fill="#ff0000"/>
<circle cx="2413.5" cy="1149.8" r="1.6" fill="#ff0000"/>
<circle cx="2637.5" cy="1187.5" r="1.6" fill="#ff0000"/>
<circle cx="2701.5" cy="1183.5" r="1.6" fill="#ff0000"/>
<circle cx="2749.5" cy="1164.8" r="1.6" fill="#ff0000"/>
<circle cx="269.5" cy="1136.5" r="1.6" fill="#ffd700"/>
<circle cx="381.5" cy="1254.8" r="1.6" fill="#ffd700"/>
<circle cx="493.5" cy="1256.5" r="1.6" fill="#ffd700"/>
<circle cx="621.5" cy="1244.5" r="1.6" fill="#ffd700"/>
<circle cx="813.5" cy="1296.0" r="1.6" fill="#ffd700"/>
<circle cx="1085.5" cy="1286.2" r="1.6" fill="#ffd700"/>
<circle cx="1341.5" cy="1287.8" r="1.6" fill="#ffd700"/>
<circle cx="1741.5" cy="1176.2" r="1.6" fill="#ffd700"/>
<circle cx="1949.5" cy="1127.2" r="1.6" fill="#ffd700"/>
<circle cx="2029.5" cy="1217.2" r="1.6" fill="#ffd700"/>
<circle cx="2093.5" cy="1254.5" r="1.6" fill="#ffd700"/>
<circle cx="2301.5" cy="1225.5" r="1.6" fill="#ffd700"/>
<circle cx="2509.5" cy="1239.5" r="1.6" fill="#ffd700"/>
<circle cx="2717.5" cy="1202.5" r="1.6" fill="#ffd700"/>
<circle cx="2877.5" cy="1255.5" r="1.6" fill="#ffd700"/>
</g>
<polygon points="0,1300 6,1306 0,1306" fill="#c0c0c0"/>
<text x="1.2" y="17" textLength="74" lengthAdjust="spacingAndGlyphs">XAUUSD,H4</text>
<text x="82.7" y="17.0" textLength="60.26" lengthAdjust="spacingAndGlyphs">2668.093</text>
<text x="146.9" y="17.0" textLength="60.26" lengthAdjust="spacingAndGlyphs">2672.344</text>
<text x="210.8" y="17.0" textLength="60.26" lengthAdjust="spacingAndGlyphs">2666.477</text>
<text x="274.6" y="17.0" textLength="60.26" lengthAdjust="spacingAndGlyphs">2670.694</text>
<text x="2929.6" y="17.0" textLength="60.26" lengthAdjust="spacingAndGlyphs">2800.490</text>
<text x="2929.6" y="82.0" textLength="60.26" lengthAdjust="spacingAndGlyphs">2784.240</text>
<text x="2929.6" y="147.0" textLength="60.26" lengthAdjust="spacingAndGlyphs">2767.740</text>
<text x="2929.6" y="212.0" textLength="60.26" lengthAdjust="spacingAndGlyphs">2751.490</text>
<text x="2929.6" y="277.0" textLength="60.26" lengthAdjust="spacingAndGlyphs">2735.240</text>
<text x="2929.6" y="342.0" textLength="60.26" lengthAdjust="spacingAndGlyphs">2718.740</text>
<text x="2929.6" y="407.0" textLength="60.26" lengthAdjust="spacingAndGlyphs">2702.490</text>
<text x="2929.6" y="472.0" textLength="60.26" lengthAdjust="spacingAndGlyphs">2686.240</text>
<text x="2929.6" y="537.0" textLength="60.26" lengthAdjust="spacingAndGlyphs">2669.740</text>
<text x="2929.6" y="602.0" textLength="60.26" lengthAdjust="spacingAndGlyphs">2653.490</text>
<text x="2929.6" y="667.0" textLength="60.26" lengthAdjust="spacingAndGlyphs">2637.240</text>
<text x="2929.6" y="732.0" textLength="60.26" lengthAdjust="spacingAndGlyphs">2620.740</text>
<text x="2929.6" y="797.0" textLength="60.26" lengthAdjust="spacingAndGlyphs">2604.490</text>
<text x="2929.6" y="862.0" textLength="60.26" lengthAdjust="spacingAndGlyphs">2588.240</text>
<text x="2929.6" y="927.0" textLength="60.26" lengthAdjust="spacingAndGlyphs">2571.740</text>
<text x="2929.6" y="992.0" textLength="60.26" lengthAdjust="spacingAndGlyphs">2555.490</text>
<text x="2929.6" y="1057.0" textLength="60.26" lengthAdjust="spacingAndGlyphs">2539.240</text>
<rect x="2925" y="519" width="70" height="17" fill="#000" shape-rendering="crispEdges"/>
<text class="w" x="2929.6" y="533.0" textLength="60.26" lengthAdjust="spacingAndGlyphs">2670.694</text>
<text x="2927.0" y="1104.0" textLength="52.22" lengthAdjust="spacingAndGlyphs">95.4646</text>
<text x="2927.0" y="1302.0" textLength="44.19" lengthAdjust="spacingAndGlyphs">3.8532</text>
<text class="w" x="2926.0" y="1144.0" textLength="16.07" lengthAdjust="spacingAndGlyphs">75</text>
<text class="w" x="2926.0" y="1203.0" textLength="16.07" lengthAdjust="spacingAndGlyphs">50</text>
<text class="w" x="2926.0" y="1262.0" textLength="16.07" lengthAdjust="spacingAndGlyphs">25</text>
<text x="2" y="1106" textLength="76" lengthAdjust="spacingAndGlyphs">RSI 43.9462</text>
<g clip-path="url(#cd)">
<text x="-3.3" y="1324.0" textLength="78.71" lengthAdjust="spacingAndGlyphs">25 Oct 2024</text>
<text x="124.7" y="1324.0" textLength="82.73" lengthAdjust="spacingAndGlyphs">29 Oct 00:00</text>
<text x="252.7" y="1324.0" textLength="82.73" lengthAdjust="spacingAndGlyphs">30 Oct 08:00</text>
<text x="380.7" y="1324.0" textLength="82.73" lengthAdjust="spacingAndGlyphs">31 Oct 16:00</text>
<text x="508.7" y="1324.0" textLength="77.91" lengthAdjust="spacingAndGlyphs">3 Nov 23:05</text>
<text x="636.7" y="1324.0" textLength="77.91" lengthAdjust="spacingAndGlyphs">5 Nov 04:00</text>
<text x="764.7" y="1324.0" textLength="77.91" lengthAdjust="spacingAndGlyphs">6 Nov 12:00</text>
<text x="892.7" y="1324.0" textLength="77.91" lengthAdjust="spacingAndGlyphs">7 Nov 20:00</text>
<text x="1020.7" y="1324.0" textLength="84.87" lengthAdjust="spacingAndGlyphs">11 Nov 00:00</text>
<text x="1148.7" y="1324.0" textLength="85.94" lengthAdjust="spacingAndGlyphs">12 Nov 08:00</text>
<text x="1276.7" y="1324.0" textLength="85.94" lengthAdjust="spacingAndGlyphs">13 Nov 16:00</text>
<text x="1404.7" y="1324.0" textLength="85.94" lengthAdjust="spacingAndGlyphs">15 Nov 00:00</text>
<text x="1532.7" y="1324.0" textLength="85.94" lengthAdjust="spacingAndGlyphs">18 Nov 04:00</text>
<text x="1660.7" y="1324.0" textLength="85.94" lengthAdjust="spacingAndGlyphs">19 Nov 12:00</text>
<text x="1788.7" y="1324.0" textLength="85.94" lengthAdjust="spacingAndGlyphs">20 Nov 20:00</text>
<text x="1916.7" y="1324.0" textLength="85.94" lengthAdjust="spacingAndGlyphs">22 Nov 04:00</text>
<text x="2044.7" y="1324.0" textLength="85.94" lengthAdjust="spacingAndGlyphs">25 Nov 08:00</text>
<text x="2172.7" y="1324.0" textLength="85.94" lengthAdjust="spacingAndGlyphs">26 Nov 16:00</text>
<text x="2300.7" y="1324.0" textLength="85.94" lengthAdjust="spacingAndGlyphs">28 Nov 00:00</text>
<text x="2428.7" y="1324.0" textLength="85.94" lengthAdjust="spacingAndGlyphs">29 Nov 08:00</text>
<text x="2556.7" y="1324.0" textLength="77.91" lengthAdjust="spacingAndGlyphs">2 Dec 16:00</text>
<text x="2684.7" y="1324.0" textLength="77.91" lengthAdjust="spacingAndGlyphs">4 Dec 00:00</text>
<text x="2812.7" y="1324.0" textLength="77.91" lengthAdjust="spacingAndGlyphs">5 Dec 08:00</text>
</g>
<g stroke="#000" stroke-width="1.9" stroke-linejoin="round">
<text class="wg" transform="translate(41.23,1297.05) scale(0.9819,1.000)" x="0" y="0">F</text>
<text class="wg" transform="translate(63.46,1297.10) scale(1.0465,0.950)" x="0" y="0">o</text>
<text class="wg" transform="translate(87.59,1297.10) scale(1.1117,0.950)" x="0" y="0">r</text>
<text class="wg" transform="translate(104.32,1297.10) scale(1.1435,0.950)" x="0" y="0">e</text>
<text class="wg" transform="translate(128.17,1297.10) scale(1.0781,0.950)" x="0" y="0">x</text>
<text class="wg" transform="translate(151.42,1297.05) scale(1.1338,1.000)" x="0" y="0">M</text>
<text class="wg" transform="translate(186.10,1297.05) scale(1.0706,1.000)" x="0" y="0">T</text>
<text class="wg" transform="translate(211.67,1297.05) scale(1.1188,1.000)" x="0" y="0">4</text>
<text class="wg" transform="translate(236.34,1297.05) scale(1.1237,1.000)" x="0" y="0">I</text>
<text class="wg" transform="translate(249.07,1297.10) scale(1.0531,0.950)" x="0" y="0">n</text>
<text class="wg" transform="translate(273.39,1297.10) scale(1.0493,0.950)" x="0" y="0">d</text>
<text class="wg" transform="translate(297.60,1297.10) scale(1.0743,0.950)" x="0" y="0">i</text>
<text class="wg" transform="translate(309.54,1297.10) scale(1.1121,0.950)" x="0" y="0">c</text>
<text class="wg" transform="translate(333.42,1297.10) scale(1.0553,0.950)" x="0" y="0">a</text>
<text class="wg" transform="translate(357.54,1297.10) scale(1.0393,0.950)" x="0" y="0">t</text>
<text class="wg" transform="translate(372.16,1297.10) scale(1.0562,0.950)" x="0" y="0">o</text>
<text class="wg" transform="translate(396.42,1297.10) scale(1.0880,0.950)" x="0" y="0">r</text>
<text class="wg" transform="translate(413.20,1297.10) scale(1.0642,0.950)" x="0" y="0">s</text>
<text class="wg" transform="translate(434.65,1297.05) scale(1.2283,1.000)" x="0" y="0">.</text>
<text class="wg" transform="translate(447.34,1297.10) scale(1.1121,0.950)" x="0" y="0">c</text>
<text class="wg" transform="translate(471.46,1297.10) scale(1.0513,0.950)" x="0" y="0">o</text>
<text class="wg" transform="translate(494.98,1297.10) scale(1.1176,0.950)" x="0" y="0">m</text>
</g>
<text transform="translate(-0.78,1296.40) scale(0.3023,0.3257)" x="0" y="0" style="font-size:100px" stroke="#000" stroke-width="3.31">@</text>
</svg></body></html>
